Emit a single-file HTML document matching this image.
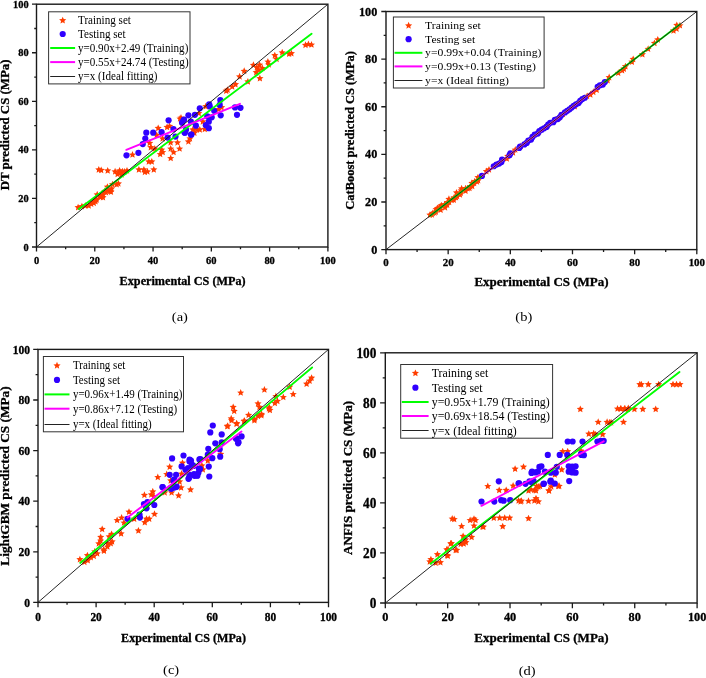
<!DOCTYPE html><html><head><meta charset="utf-8"><style>html,body{margin:0;padding:0;background:#fff;width:706px;height:678px;overflow:hidden}svg{display:block;will-change:transform}text{font-family:"Liberation Serif",serif;fill:#000}text.b{stroke:#000;stroke-width:0.3px}</style></head><body>
<svg width="706" height="678" viewBox="0 0 706 678">
<rect width="706" height="678" fill="#fff"/>
<g>
<clipPath id="ca"><rect x="36.50" y="4.20" width="291.40" height="242.80"/></clipPath>
<g clip-path="url(#ca)">
<g fill="#ff3d00">
<polygon points="305.50,41.35 306.53,43.68 309.07,43.94 307.16,45.64 307.70,48.13 305.50,46.85 303.30,48.13 303.84,45.64 301.93,43.94 304.47,43.68"/>
<polygon points="308.40,40.55 309.43,42.88 311.97,43.14 310.06,44.84 310.60,47.33 308.40,46.05 306.20,47.33 306.74,44.84 304.83,43.14 307.37,42.88"/>
<polygon points="311.50,41.05 312.53,43.38 315.07,43.64 313.16,45.34 313.70,47.83 311.50,46.55 309.30,47.83 309.84,45.34 307.93,43.64 310.47,43.38"/>
<polygon points="291.40,49.75 292.43,52.08 294.97,52.34 293.06,54.04 293.60,56.53 291.40,55.25 289.20,56.53 289.74,54.04 287.83,52.34 290.37,52.08"/>
<polygon points="289.10,50.25 290.13,52.58 292.67,52.84 290.76,54.54 291.30,57.03 289.10,55.75 286.90,57.03 287.44,54.54 285.53,52.84 288.07,52.58"/>
<polygon points="282.20,48.85 283.23,51.18 285.77,51.44 283.86,53.14 284.40,55.63 282.20,54.35 280.00,55.63 280.54,53.14 278.63,51.44 281.17,51.18"/>
<polygon points="274.80,51.65 275.83,53.98 278.37,54.24 276.46,55.94 277.00,58.43 274.80,57.15 272.60,58.43 273.14,55.94 271.23,54.24 273.77,53.98"/>
<polygon points="276.60,55.35 277.63,57.68 280.17,57.94 278.26,59.64 278.80,62.13 276.60,60.85 274.40,62.13 274.94,59.64 273.03,57.94 275.57,57.68"/>
<polygon points="267.90,58.05 268.93,60.38 271.47,60.64 269.56,62.34 270.10,64.83 267.90,63.55 265.70,64.83 266.24,62.34 264.33,60.64 266.87,60.38"/>
<polygon points="268.80,60.85 269.83,63.18 272.37,63.44 270.46,65.14 271.00,67.63 268.80,66.35 266.60,67.63 267.14,65.14 265.23,63.44 267.77,63.18"/>
<polygon points="259.60,61.25 260.63,63.58 263.17,63.84 261.26,65.54 261.80,68.03 259.60,66.75 257.40,68.03 257.94,65.54 256.03,63.84 258.57,63.58"/>
<polygon points="256.80,63.65 257.83,65.98 260.37,66.24 258.46,67.94 259.00,70.43 256.80,69.15 254.60,70.43 255.14,67.94 253.23,66.24 255.77,65.98"/>
<polygon points="262.40,64.55 263.43,66.88 265.97,67.14 264.06,68.84 264.60,71.33 262.40,70.05 260.20,71.33 260.74,68.84 258.83,67.14 261.37,66.88"/>
<polygon points="253.40,61.35 254.43,63.68 256.97,63.94 255.06,65.64 255.60,68.13 253.40,66.85 251.20,68.13 251.74,65.64 249.83,63.94 252.37,63.68"/>
<polygon points="258.80,66.05 259.83,68.38 262.37,68.64 260.46,70.34 261.00,72.83 258.80,71.55 256.60,72.83 257.14,70.34 255.23,68.64 257.77,68.38"/>
<polygon points="256.20,68.75 257.23,71.08 259.77,71.34 257.86,73.04 258.40,75.53 256.20,74.25 254.00,75.53 254.54,73.04 252.63,71.34 255.17,71.08"/>
<polygon points="259.90,74.75 260.93,77.08 263.47,77.34 261.56,79.04 262.10,81.53 259.90,80.25 257.70,81.53 258.24,79.04 256.33,77.34 258.87,77.08"/>
<polygon points="244.20,67.35 245.23,69.68 247.77,69.94 245.86,71.64 246.40,74.13 244.20,72.85 242.00,74.13 242.54,71.64 240.63,69.94 243.17,69.68"/>
<polygon points="239.60,72.85 240.63,75.18 243.17,75.44 241.26,77.14 241.80,79.63 239.60,78.35 237.40,79.63 237.94,77.14 236.03,75.44 238.57,75.18"/>
<polygon points="247.90,77.95 248.93,80.28 251.47,80.54 249.56,82.24 250.10,84.73 247.90,83.45 245.70,84.73 246.24,82.24 244.33,80.54 246.87,80.28"/>
<polygon points="235.50,80.75 236.53,83.08 239.07,83.34 237.16,85.04 237.70,87.53 235.50,86.25 233.30,87.53 233.84,85.04 231.93,83.34 234.47,83.08"/>
<polygon points="232.20,83.05 233.23,85.38 235.77,85.64 233.86,87.34 234.40,89.83 232.20,88.55 230.00,89.83 230.54,87.34 228.63,85.64 231.17,85.38"/>
<polygon points="227.60,86.25 228.63,88.58 231.17,88.84 229.26,90.54 229.80,93.03 227.60,91.75 225.40,93.03 225.94,90.54 224.03,88.84 226.57,88.58"/>
<polygon points="226.20,87.15 227.23,89.48 229.77,89.74 227.86,91.44 228.40,93.93 226.20,92.65 224.00,93.93 224.54,91.44 222.63,89.74 225.17,89.48"/>
<polygon points="205.80,102.65 206.83,104.98 209.37,105.24 207.46,106.94 208.00,109.43 205.80,108.15 203.60,109.43 204.14,106.94 202.23,105.24 204.77,104.98"/>
<polygon points="221.60,103.65 222.63,105.98 225.17,106.24 223.26,107.94 223.80,110.43 221.60,109.15 219.40,110.43 219.94,107.94 218.03,106.24 220.57,105.98"/>
<polygon points="218.70,105.55 219.73,107.88 222.27,108.14 220.36,109.84 220.90,112.33 218.70,111.05 216.50,112.33 217.04,109.84 215.13,108.14 217.67,107.88"/>
<polygon points="198.80,109.55 199.83,111.88 202.37,112.14 200.46,113.84 201.00,116.33 198.80,115.05 196.60,116.33 197.14,113.84 195.23,112.14 197.77,111.88"/>
<polygon points="202.80,117.95 203.83,120.28 206.37,120.54 204.46,122.24 205.00,124.73 202.80,123.45 200.60,124.73 201.14,122.24 199.23,120.54 201.77,120.28"/>
<polygon points="199.80,125.95 200.83,128.28 203.37,128.54 201.46,130.24 202.00,132.73 199.80,131.45 197.60,132.73 198.14,130.24 196.23,128.54 198.77,128.28"/>
<polygon points="196.90,125.95 197.93,128.28 200.47,128.54 198.56,130.24 199.10,132.73 196.90,131.45 194.70,132.73 195.24,130.24 193.33,128.54 195.87,128.28"/>
<polygon points="204.80,125.45 205.83,127.78 208.37,128.04 206.46,129.74 207.00,132.23 204.80,130.95 202.60,132.23 203.14,129.74 201.23,128.04 203.77,127.78"/>
<polygon points="192.90,125.95 193.93,128.28 196.47,128.54 194.56,130.24 195.10,132.73 192.90,131.45 190.70,132.73 191.24,130.24 189.33,128.54 191.87,128.28"/>
<polygon points="181.00,114.05 182.03,116.38 184.57,116.64 182.66,118.34 183.20,120.83 181.00,119.55 178.80,120.83 179.34,118.34 177.43,116.64 179.97,116.38"/>
<polygon points="190.00,134.85 191.03,137.18 193.57,137.44 191.66,139.14 192.20,141.63 190.00,140.35 187.80,141.63 188.34,139.14 186.43,137.44 188.97,137.18"/>
<polygon points="158.20,124.45 159.23,126.78 161.77,127.04 159.86,128.74 160.40,131.23 158.20,129.95 156.00,131.23 156.54,128.74 154.63,127.04 157.17,126.78"/>
<polygon points="167.10,123.45 168.13,125.78 170.67,126.04 168.76,127.74 169.30,130.23 167.10,128.95 164.90,130.23 165.44,127.74 163.53,126.04 166.07,125.78"/>
<polygon points="169.60,122.45 170.63,124.78 173.17,125.04 171.26,126.74 171.80,129.23 169.60,127.95 167.40,129.23 167.94,126.74 166.03,125.04 168.57,124.78"/>
<polygon points="180.00,115.05 181.03,117.38 183.57,117.64 181.66,119.34 182.20,121.83 180.00,120.55 177.80,121.83 178.34,119.34 176.43,117.64 178.97,117.38"/>
<polygon points="156.70,131.45 157.73,133.78 160.27,134.04 158.36,135.74 158.90,138.23 156.70,136.95 154.50,138.23 155.04,135.74 153.13,134.04 155.67,133.78"/>
<polygon points="162.60,134.85 163.63,137.18 166.17,137.44 164.26,139.14 164.80,141.63 162.60,140.35 160.40,141.63 160.94,139.14 159.03,137.44 161.57,137.18"/>
<polygon points="170.60,138.85 171.63,141.18 174.17,141.44 172.26,143.14 172.80,145.63 170.60,144.35 168.40,145.63 168.94,143.14 167.03,141.44 169.57,141.18"/>
<polygon points="177.50,138.85 178.53,141.18 181.07,141.44 179.16,143.14 179.70,145.63 177.50,144.35 175.30,145.63 175.84,143.14 173.93,141.44 176.47,141.18"/>
<polygon points="149.70,139.35 150.73,141.68 153.27,141.94 151.36,143.64 151.90,146.13 149.70,144.85 147.50,146.13 148.04,143.64 146.13,141.94 148.67,141.68"/>
<polygon points="188.40,137.85 189.43,140.18 191.97,140.44 190.06,142.14 190.60,144.63 188.40,143.35 186.20,144.63 186.74,142.14 184.83,140.44 187.37,140.18"/>
<polygon points="150.80,143.65 151.83,145.98 154.37,146.24 152.46,147.94 153.00,150.43 150.80,149.15 148.60,150.43 149.14,147.94 147.23,146.24 149.77,145.98"/>
<polygon points="154.80,145.05 155.83,147.38 158.37,147.64 156.46,149.34 157.00,151.83 154.80,150.55 152.60,151.83 153.14,149.34 151.23,147.64 153.77,147.38"/>
<polygon points="161.70,146.05 162.73,148.38 165.27,148.64 163.36,150.34 163.90,152.83 161.70,151.55 159.50,152.83 160.04,150.34 158.13,148.64 160.67,148.38"/>
<polygon points="162.70,148.55 163.73,150.88 166.27,151.14 164.36,152.84 164.90,155.33 162.70,154.05 160.50,155.33 161.04,152.84 159.13,151.14 161.67,150.88"/>
<polygon points="160.20,150.55 161.23,152.88 163.77,153.14 161.86,154.84 162.40,157.33 160.20,156.05 158.00,157.33 158.54,154.84 156.63,153.14 159.17,152.88"/>
<polygon points="170.70,145.05 171.73,147.38 174.27,147.64 172.36,149.34 172.90,151.83 170.70,150.55 168.50,151.83 169.04,149.34 167.13,147.64 169.67,147.38"/>
<polygon points="173.60,148.55 174.63,150.88 177.17,151.14 175.26,152.84 175.80,155.33 173.60,154.05 171.40,155.33 171.94,152.84 170.03,151.14 172.57,150.88"/>
<polygon points="179.60,145.05 180.63,147.38 183.17,147.64 181.26,149.34 181.80,151.83 179.60,150.55 177.40,151.83 177.94,149.34 176.03,147.64 178.57,147.38"/>
<polygon points="170.70,154.55 171.73,156.88 174.27,157.14 172.36,158.84 172.90,161.33 170.70,160.05 168.50,161.33 169.04,158.84 167.13,157.14 169.67,156.88"/>
<polygon points="194.40,129.25 195.43,131.58 197.97,131.84 196.06,133.54 196.60,136.03 194.40,134.75 192.20,136.03 192.74,133.54 190.83,131.84 193.37,131.58"/>
<polygon points="132.50,151.05 133.53,153.38 136.07,153.64 134.16,155.34 134.70,157.83 132.50,156.55 130.30,157.83 130.84,155.34 128.93,153.64 131.47,153.38"/>
<polygon points="148.80,157.95 149.83,160.28 152.37,160.54 150.46,162.24 151.00,164.73 148.80,163.45 146.60,164.73 147.14,162.24 145.23,160.54 147.77,160.28"/>
<polygon points="151.80,157.95 152.83,160.28 155.37,160.54 153.46,162.24 154.00,164.73 151.80,163.45 149.60,164.73 150.14,162.24 148.23,160.54 150.77,160.28"/>
<polygon points="138.90,165.95 139.93,168.28 142.47,168.54 140.56,170.24 141.10,172.73 138.90,171.45 136.70,172.73 137.24,170.24 135.33,168.54 137.87,168.28"/>
<polygon points="143.90,165.95 144.93,168.28 147.47,168.54 145.56,170.24 146.10,172.73 143.90,171.45 141.70,172.73 142.24,170.24 140.33,168.54 142.87,168.28"/>
<polygon points="147.40,167.85 148.43,170.18 150.97,170.44 149.06,172.14 149.60,174.63 147.40,173.35 145.20,174.63 145.74,172.14 143.83,170.44 146.37,170.18"/>
<polygon points="144.90,168.35 145.93,170.68 148.47,170.94 146.56,172.64 147.10,175.13 144.90,173.85 142.70,175.13 143.24,172.64 141.33,170.94 143.87,170.68"/>
<polygon points="153.80,165.95 154.83,168.28 157.37,168.54 155.46,170.24 156.00,172.73 153.80,171.45 151.60,172.73 152.14,170.24 150.23,168.54 152.77,168.28"/>
<polygon points="98.80,165.95 99.83,168.28 102.37,168.54 100.46,170.24 101.00,172.73 98.80,171.45 96.60,172.73 97.14,170.24 95.23,168.54 97.77,168.28"/>
<polygon points="101.20,166.45 102.23,168.78 104.77,169.04 102.86,170.74 103.40,173.23 101.20,171.95 99.00,173.23 99.54,170.74 97.63,169.04 100.17,168.78"/>
<polygon points="107.70,166.95 108.73,169.28 111.27,169.54 109.36,171.24 109.90,173.73 107.70,172.45 105.50,173.73 106.04,171.24 104.13,169.54 106.67,169.28"/>
<polygon points="115.10,167.85 116.13,170.18 118.67,170.44 116.76,172.14 117.30,174.63 115.10,173.35 112.90,174.63 113.44,172.14 111.53,170.44 114.07,170.18"/>
<polygon points="119.60,166.95 120.63,169.28 123.17,169.54 121.26,171.24 121.80,173.73 119.60,172.45 117.40,173.73 117.94,171.24 116.03,169.54 118.57,169.28"/>
<polygon points="122.50,167.85 123.53,170.18 126.07,170.44 124.16,172.14 124.70,174.63 122.50,173.35 120.30,174.63 120.84,172.14 118.93,170.44 121.47,170.18"/>
<polygon points="127.00,166.95 128.03,169.28 130.57,169.54 128.66,171.24 129.20,173.73 127.00,172.45 124.80,173.73 125.34,171.24 123.43,169.54 125.97,169.28"/>
<polygon points="121.60,170.85 122.63,173.18 125.17,173.44 123.26,175.14 123.80,177.63 121.60,176.35 119.40,177.63 119.94,175.14 118.03,173.44 120.57,173.18"/>
<polygon points="78.10,203.65 79.13,205.98 81.67,206.24 79.76,207.94 80.30,210.43 78.10,209.15 75.90,210.43 76.44,207.94 74.53,206.24 77.07,205.98"/>
<polygon points="81.90,202.75 82.93,205.08 85.47,205.34 83.56,207.04 84.10,209.53 81.90,208.25 79.70,209.53 80.24,207.04 78.33,205.34 80.87,205.08"/>
<polygon points="85.30,201.95 86.33,204.28 88.87,204.54 86.96,206.24 87.50,208.73 85.30,207.45 83.10,208.73 83.64,206.24 81.73,204.54 84.27,204.28"/>
<polygon points="88.70,201.95 89.73,204.28 92.27,204.54 90.36,206.24 90.90,208.73 88.70,207.45 86.50,208.73 87.04,206.24 85.13,204.54 87.67,204.28"/>
<polygon points="91.20,200.25 92.23,202.58 94.77,202.84 92.86,204.54 93.40,207.03 91.20,205.75 89.00,207.03 89.54,204.54 87.63,202.84 90.17,202.58"/>
<polygon points="93.80,199.35 94.83,201.68 97.37,201.94 95.46,203.64 96.00,206.13 93.80,204.85 91.60,206.13 92.14,203.64 90.23,201.94 92.77,201.68"/>
<polygon points="95.50,197.65 96.53,199.98 99.07,200.24 97.16,201.94 97.70,204.43 95.50,203.15 93.30,204.43 93.84,201.94 91.93,200.24 94.47,199.98"/>
<polygon points="96.30,195.15 97.33,197.48 99.87,197.74 97.96,199.44 98.50,201.93 96.30,200.65 94.10,201.93 94.64,199.44 92.73,197.74 95.27,197.48"/>
<polygon points="97.20,190.85 98.23,193.18 100.77,193.44 98.86,195.14 99.40,197.63 97.20,196.35 95.00,197.63 95.54,195.14 93.63,193.44 96.17,193.18"/>
<polygon points="100.60,193.45 101.63,195.78 104.17,196.04 102.26,197.74 102.80,200.23 100.60,198.95 98.40,200.23 98.94,197.74 97.03,196.04 99.57,195.78"/>
<polygon points="103.10,190.85 104.13,193.18 106.67,193.44 104.76,195.14 105.30,197.63 103.10,196.35 100.90,197.63 101.44,195.14 99.53,193.44 102.07,193.18"/>
<polygon points="104.80,187.45 105.83,189.78 108.37,190.04 106.46,191.74 107.00,194.23 104.80,192.95 102.60,194.23 103.14,191.74 101.23,190.04 103.77,189.78"/>
<polygon points="107.40,183.25 108.43,185.58 110.97,185.84 109.06,187.54 109.60,190.03 107.40,188.75 105.20,190.03 105.74,187.54 103.83,185.84 106.37,185.58"/>
<polygon points="109.90,187.45 110.93,189.78 113.47,190.04 111.56,191.74 112.10,194.23 109.90,192.95 107.70,194.23 108.24,191.74 106.33,190.04 108.87,189.78"/>
<polygon points="111.60,184.95 112.63,187.28 115.17,187.54 113.26,189.24 113.80,191.73 111.60,190.45 109.40,191.73 109.94,189.24 108.03,187.54 110.57,187.28"/>
<polygon points="112.50,180.65 113.53,182.98 116.07,183.24 114.16,184.94 114.70,187.43 112.50,186.15 110.30,187.43 110.84,184.94 108.93,183.24 111.47,182.98"/>
<polygon points="116.70,180.65 117.73,182.98 120.27,183.24 118.36,184.94 118.90,187.43 116.70,186.15 114.50,187.43 115.04,184.94 113.13,183.24 115.67,182.98"/>
<polygon points="118.40,179.85 119.43,182.18 121.97,182.44 120.06,184.14 120.60,186.63 118.40,185.35 116.20,186.63 116.74,184.14 114.83,182.44 117.37,182.18"/>
<polygon points="117.60,170.45 118.63,172.78 121.17,173.04 119.26,174.74 119.80,177.23 117.60,175.95 115.40,177.23 115.94,174.74 114.03,173.04 116.57,172.78"/>
<polygon points="121.00,168.75 122.03,171.08 124.57,171.34 122.66,173.04 123.20,175.53 121.00,174.25 118.80,175.53 119.34,173.04 117.43,171.34 119.97,171.08"/>
<polygon points="124.40,167.95 125.43,170.28 127.97,170.54 126.06,172.24 126.60,174.73 124.40,173.45 122.20,174.73 122.74,172.24 120.83,170.54 123.37,170.28"/>
<polygon points="108.00,185.75 109.03,188.08 111.57,188.34 109.66,190.04 110.20,192.53 108.00,191.25 105.80,192.53 106.34,190.04 104.43,188.34 106.97,188.08"/>
<polygon points="111.00,188.25 112.03,190.58 114.57,190.84 112.66,192.54 113.20,195.03 111.00,193.75 108.80,195.03 109.34,192.54 107.43,190.84 109.97,190.58"/>
<polygon points="106.00,188.75 107.03,191.08 109.57,191.34 107.66,193.04 108.20,195.53 106.00,194.25 103.80,195.53 104.34,193.04 102.43,191.34 104.97,191.08"/>
<polygon points="100.00,192.25 101.03,194.58 103.57,194.84 101.66,196.54 102.20,199.03 100.00,197.75 97.80,199.03 98.34,196.54 96.43,194.84 98.97,194.58"/>
<polygon points="103.00,193.75 104.03,196.08 106.57,196.34 104.66,198.04 105.20,200.53 103.00,199.25 100.80,200.53 101.34,198.04 99.43,196.34 101.97,196.08"/>
<polygon points="93.00,198.25 94.03,200.58 96.57,200.84 94.66,202.54 95.20,205.03 93.00,203.75 90.80,205.03 91.34,202.54 89.43,200.84 91.97,200.58"/>
<polygon points="96.50,196.25 97.53,198.58 100.07,198.84 98.16,200.54 98.70,203.03 96.50,201.75 94.30,203.03 94.84,200.54 92.93,198.84 95.47,198.58"/>
</g>
<g fill="#3000ff">
<circle cx="220.30" cy="100.10" r="3.1"/>
<circle cx="209.20" cy="104.30" r="3.1"/>
<circle cx="219.70" cy="104.90" r="3.1"/>
<circle cx="209.70" cy="106.40" r="3.1"/>
<circle cx="199.80" cy="108.30" r="3.1"/>
<circle cx="214.20" cy="110.80" r="3.1"/>
<circle cx="220.70" cy="115.30" r="3.1"/>
<circle cx="235.00" cy="107.40" r="3.1"/>
<circle cx="240.50" cy="107.80" r="3.1"/>
<circle cx="237.00" cy="114.80" r="3.1"/>
<circle cx="194.90" cy="114.80" r="3.1"/>
<circle cx="188.40" cy="115.30" r="3.1"/>
<circle cx="207.30" cy="116.30" r="3.1"/>
<circle cx="211.70" cy="117.30" r="3.1"/>
<circle cx="208.80" cy="121.70" r="3.1"/>
<circle cx="205.80" cy="125.20" r="3.1"/>
<circle cx="208.80" cy="128.20" r="3.1"/>
<circle cx="195.90" cy="125.70" r="3.1"/>
<circle cx="190.90" cy="121.70" r="3.1"/>
<circle cx="184.00" cy="119.70" r="3.1"/>
<circle cx="182.00" cy="122.70" r="3.1"/>
<circle cx="186.00" cy="129.70" r="3.1"/>
<circle cx="190.90" cy="134.60" r="3.1"/>
<circle cx="184.50" cy="132.60" r="3.1"/>
<circle cx="168.60" cy="120.30" r="3.1"/>
<circle cx="183.50" cy="120.30" r="3.1"/>
<circle cx="146.30" cy="132.70" r="3.1"/>
<circle cx="153.20" cy="132.70" r="3.1"/>
<circle cx="161.60" cy="132.20" r="3.1"/>
<circle cx="145.30" cy="138.60" r="3.1"/>
<circle cx="173.50" cy="129.20" r="3.1"/>
<circle cx="167.60" cy="137.60" r="3.1"/>
<circle cx="175.50" cy="136.60" r="3.1"/>
<circle cx="184.90" cy="132.70" r="3.1"/>
<circle cx="142.80" cy="144.10" r="3.1"/>
<circle cx="138.40" cy="152.80" r="3.1"/>
<circle cx="191.50" cy="134.50" r="3.1"/>
<circle cx="126.50" cy="155.30" r="3.1"/>
</g>
<line x1="78.90" y1="209.10" x2="311.60" y2="33.80" stroke="#00ff00" stroke-width="1.9" stroke-linecap="round"/>
<line x1="126.30" y1="149.80" x2="240.00" y2="103.80" stroke="#ff00ff" stroke-width="1.9" stroke-linecap="round"/>
<line x1="36.50" y1="247.00" x2="327.90" y2="4.20" stroke="#1a1a1a" stroke-width="0.95"/>
</g>
<rect x="36.50" y="4.20" width="291.40" height="242.80" fill="none" stroke="#1a1a1a" stroke-width="1.4"/>
<path d="M36.50 247.00h-4.50M36.50 247.00v4.50M36.50 222.72h-2.25M65.64 247.00v2.25M36.50 198.44h-4.50M94.78 247.00v4.50M36.50 174.16h-2.25M123.92 247.00v2.25M36.50 149.88h-4.50M153.06 247.00v4.50M36.50 125.60h-2.25M182.20 247.00v2.25M36.50 101.32h-4.50M211.34 247.00v4.50M36.50 77.04h-2.25M240.48 247.00v2.25M36.50 52.76h-4.50M269.62 247.00v4.50M36.50 28.48h-2.25M298.76 247.00v2.25M36.50 4.20h-4.50M327.90 247.00v4.50" stroke="#1a1a1a" stroke-width="1.3" fill="none"/>
<text transform="translate(28.70,250.59) scale(1.0000,1.0300)" font-size="10.40" font-weight="bold" text-anchor="end" class="b">0</text>
<text transform="translate(36.50,263.99) scale(1.0000,1.0500)" font-size="10.50" font-weight="bold" text-anchor="middle" class="b">0</text>
<text transform="translate(28.70,202.03) scale(1.0000,1.0300)" font-size="10.40" font-weight="bold" text-anchor="end" class="b">20</text>
<text transform="translate(94.78,263.99) scale(1.0000,1.0500)" font-size="10.50" font-weight="bold" text-anchor="middle" class="b">20</text>
<text transform="translate(28.70,153.47) scale(1.0000,1.0300)" font-size="10.40" font-weight="bold" text-anchor="end" class="b">40</text>
<text transform="translate(153.06,263.99) scale(1.0000,1.0500)" font-size="10.50" font-weight="bold" text-anchor="middle" class="b">40</text>
<text transform="translate(28.70,104.91) scale(1.0000,1.0300)" font-size="10.40" font-weight="bold" text-anchor="end" class="b">60</text>
<text transform="translate(211.34,263.99) scale(1.0000,1.0500)" font-size="10.50" font-weight="bold" text-anchor="middle" class="b">60</text>
<text transform="translate(28.70,56.35) scale(1.0000,1.0300)" font-size="10.40" font-weight="bold" text-anchor="end" class="b">80</text>
<text transform="translate(269.62,263.99) scale(1.0000,1.0500)" font-size="10.50" font-weight="bold" text-anchor="middle" class="b">80</text>
<text transform="translate(28.70,7.79) scale(1.0000,1.0300)" font-size="10.40" font-weight="bold" text-anchor="end" class="b">100</text>
<text transform="translate(327.90,263.99) scale(1.0000,1.0500)" font-size="10.50" font-weight="bold" text-anchor="middle" class="b">100</text>
<text transform="translate(182.60,284.60) scale(1.0000,1.0400)" font-size="12.20" font-weight="bold" text-anchor="middle" class="b">Experimental CS (MPa)</text>
<text transform="translate(9.00,124.85) rotate(-90) scale(1.0000,0.9400)" font-size="12.90" font-weight="bold" text-anchor="middle" class="b">DT predicted CS (MPa)</text>
<rect x="48.60" y="11.80" width="141.40" height="72.10" fill="#fff" stroke="#333" stroke-width="1"/>
<g fill="#ff3d00"><polygon points="62.70,16.65 63.73,18.98 66.27,19.24 64.36,20.94 64.90,23.43 62.70,22.15 60.50,23.43 61.04,20.94 59.13,19.24 61.67,18.98"/></g>
<circle cx="62.70" cy="34.00" r="3.1" fill="#3000ff"/>
<line x1="50.20" y1="48.00" x2="75.10" y2="48.00" stroke="#00ff00" stroke-width="2"/>
<line x1="50.20" y1="62.10" x2="75.10" y2="62.10" stroke="#ff00ff" stroke-width="2"/>
<line x1="50.20" y1="76.50" x2="75.10" y2="76.50" stroke="#222" stroke-width="1"/>
<text transform="translate(78.00,24.09) scale(1.0000,1.0400)" font-size="11.10" font-weight="normal" text-anchor="start">Training set</text>
<text transform="translate(78.00,37.69) scale(1.0000,1.0400)" font-size="11.10" font-weight="normal" text-anchor="start">Testing set</text>
<text transform="translate(78.00,51.69) scale(1.0000,1.0400)" font-size="11.10" font-weight="normal" text-anchor="start">y=0.90x+2.49 (Training)</text>
<text transform="translate(78.00,65.79) scale(1.0000,1.0400)" font-size="11.10" font-weight="normal" text-anchor="start">y=0.55x+24.74 (Testing)</text>
<text transform="translate(78.00,80.09) scale(1.0000,1.0400)" font-size="11.10" font-weight="normal" text-anchor="start">y=x (Ideal fitting)</text>
<text transform="translate(179.90,321.44) scale(1.1000,1.0000)" font-size="13.20" font-weight="normal" text-anchor="middle">(a)</text>
</g>
<g>
<clipPath id="cb"><rect x="386.00" y="11.50" width="310.80" height="238.10"/></clipPath>
<g clip-path="url(#cb)">
<g fill="#ff3d00">
<polygon points="429.94,211.13 430.97,213.47 433.51,213.72 431.61,215.42 432.15,217.91 429.94,216.63 427.74,217.91 428.28,215.42 426.37,213.72 428.91,213.47"/>
<polygon points="431.83,210.91 432.86,213.25 435.40,213.51 433.50,215.21 434.04,217.70 431.83,216.41 429.63,217.70 430.17,215.21 428.27,213.51 430.81,213.25"/>
<polygon points="432.81,209.47 433.83,211.80 436.37,212.06 434.47,213.76 435.01,216.25 432.81,214.97 430.60,216.25 431.14,213.76 429.24,212.06 431.78,211.80"/>
<polygon points="434.56,209.07 435.59,211.40 438.13,211.66 436.22,213.36 436.76,215.85 434.56,214.57 432.36,215.85 432.90,213.36 430.99,211.66 433.53,211.40"/>
<polygon points="435.91,208.12 436.94,210.46 439.47,210.71 437.57,212.41 438.11,214.91 435.91,213.62 433.70,214.91 434.24,212.41 432.34,210.71 434.88,210.46"/>
<polygon points="436.14,205.69 437.17,208.02 439.70,208.28 437.80,209.98 438.34,212.47 436.14,211.19 433.93,212.47 434.47,209.98 432.57,208.28 435.11,208.02"/>
<polygon points="437.34,204.56 438.37,206.89 440.91,207.15 439.01,208.85 439.55,211.34 437.34,210.06 435.14,211.34 435.68,208.85 433.78,207.15 436.31,206.89"/>
<polygon points="440.63,206.21 441.66,208.54 444.20,208.80 442.30,210.50 442.84,212.99 440.63,211.71 438.43,212.99 438.97,210.50 437.07,208.80 439.61,208.54"/>
<polygon points="440.14,202.80 441.17,205.13 443.70,205.39 441.80,207.09 442.34,209.58 440.14,208.30 437.93,209.58 438.47,207.09 436.57,205.39 439.11,205.13"/>
<polygon points="441.36,201.70 442.39,204.03 444.93,204.29 443.03,205.99 443.57,208.48 441.36,207.20 439.16,208.48 439.70,205.99 437.80,204.29 440.34,204.03"/>
<polygon points="445.04,203.86 446.07,206.20 448.61,206.45 446.71,208.15 447.25,210.65 445.04,209.36 442.84,210.65 443.38,208.15 441.48,206.45 444.02,206.20"/>
<polygon points="444.71,200.68 445.74,203.01 448.28,203.27 446.37,204.97 446.91,207.46 444.71,206.18 442.51,207.46 443.05,204.97 441.14,203.27 443.68,203.01"/>
<polygon points="447.16,201.20 448.19,203.54 450.72,203.79 448.82,205.49 449.36,207.98 447.16,206.70 444.95,207.98 445.49,205.49 443.59,203.79 446.13,203.54"/>
<polygon points="447.34,198.70 448.37,201.04 450.91,201.29 449.00,202.99 449.54,205.49 447.34,204.20 445.14,205.49 445.68,202.99 443.77,201.29 446.31,201.04"/>
<polygon points="449.15,198.38 450.18,200.71 452.72,200.97 450.82,202.67 451.36,205.16 449.15,203.88 446.95,205.16 447.49,202.67 445.59,200.97 448.12,200.71"/>
<polygon points="448.93,195.35 449.96,197.68 452.50,197.94 450.60,199.64 451.14,202.13 448.93,200.85 446.73,202.13 447.27,199.64 445.37,197.94 447.91,197.68"/>
<polygon points="451.75,196.36 452.78,198.70 455.32,198.95 453.42,200.65 453.96,203.15 451.75,201.86 449.55,203.15 450.09,200.65 448.18,198.95 450.72,198.70"/>
<polygon points="453.78,196.33 454.81,198.67 457.35,198.92 455.45,200.62 455.99,203.12 453.78,201.83 451.58,203.12 452.12,200.62 450.22,198.92 452.76,198.67"/>
<polygon points="454.01,193.90 455.04,196.23 457.58,196.49 455.68,198.19 456.22,200.68 454.01,199.40 451.81,200.68 452.35,198.19 450.45,196.49 452.98,196.23"/>
<polygon points="456.00,193.80 457.03,196.14 459.57,196.40 457.66,198.10 458.20,200.59 456.00,199.30 453.79,200.59 454.33,198.10 452.43,196.40 454.97,196.14"/>
<polygon points="457.09,192.51 458.12,194.85 460.65,195.11 458.75,196.81 459.29,199.30 457.09,198.01 454.88,199.30 455.42,196.81 453.52,195.11 456.06,194.85"/>
<polygon points="456.50,188.99 457.53,191.32 460.06,191.58 458.16,193.28 458.70,195.77 456.50,194.49 454.29,195.77 454.83,193.28 452.93,191.58 455.47,191.32"/>
<polygon points="459.97,190.88 461.00,193.21 463.53,193.47 461.63,195.17 462.17,197.66 459.97,196.38 457.76,197.66 458.30,195.17 456.40,193.47 458.94,193.21"/>
<polygon points="460.75,189.18 461.78,191.51 464.32,191.77 462.42,193.47 462.96,195.96 460.75,194.68 458.55,195.96 459.09,193.47 457.19,191.77 459.72,191.51"/>
<polygon points="461.15,186.97 462.18,189.31 464.72,189.57 462.82,191.27 463.36,193.76 461.15,192.47 458.95,193.76 459.49,191.27 457.59,189.57 460.12,189.31"/>
<polygon points="461.62,184.85 462.64,187.18 465.18,187.44 463.28,189.14 463.82,191.63 461.62,190.35 459.41,191.63 459.95,189.14 458.05,187.44 460.59,187.18"/>
<polygon points="465.52,187.32 466.55,189.66 469.09,189.91 467.19,191.61 467.73,194.11 465.52,192.82 463.32,194.11 463.86,191.61 461.96,189.91 464.50,189.66"/>
<polygon points="465.60,184.69 466.63,187.02 469.17,187.28 467.27,188.98 467.81,191.47 465.60,190.19 463.40,191.47 463.94,188.98 462.04,187.28 464.58,187.02"/>
<polygon points="467.68,184.71 468.71,187.05 471.24,187.30 469.34,189.00 469.88,191.50 467.68,190.21 465.47,191.50 466.01,189.00 464.11,187.30 466.65,187.05"/>
<polygon points="469.48,184.38 470.51,186.71 473.05,186.97 471.15,188.67 471.69,191.16 469.48,189.88 467.28,191.16 467.82,188.67 465.92,186.97 468.45,186.71"/>
<polygon points="470.27,182.69 471.30,185.03 473.84,185.28 471.94,186.98 472.48,189.48 470.27,188.19 468.07,189.48 468.61,186.98 466.71,185.28 469.24,185.03"/>
<polygon points="472.22,182.55 473.25,184.89 475.79,185.14 473.89,186.84 474.43,189.34 472.22,188.05 470.02,189.34 470.56,186.84 468.66,185.14 471.20,184.89"/>
<polygon points="471.89,179.36 472.92,181.70 475.45,181.96 473.55,183.65 474.09,186.15 471.89,184.86 469.68,186.15 470.22,183.65 468.32,181.96 470.86,181.70"/>
<polygon points="474.10,179.57 475.13,181.91 477.67,182.16 475.76,183.86 476.30,186.36 474.10,185.07 471.89,186.36 472.43,183.86 470.53,182.16 473.07,181.91"/>
<polygon points="474.72,177.66 475.75,179.99 478.29,180.25 476.38,181.95 476.92,184.44 474.72,183.16 472.52,184.44 473.06,181.95 471.15,180.25 473.69,179.99"/>
<polygon points="476.97,177.92 478.00,180.25 480.53,180.51 478.63,182.21 479.17,184.70 476.97,183.42 474.76,184.70 475.30,182.21 473.40,180.51 475.94,180.25"/>
<polygon points="478.16,176.77 479.19,179.11 481.73,179.36 479.83,181.06 480.37,183.55 478.16,182.27 475.96,183.55 476.50,181.06 474.60,179.36 477.14,179.11"/>
<polygon points="477.97,173.77 479.00,176.10 481.54,176.36 479.63,178.06 480.17,180.55 477.97,179.27 475.77,180.55 476.31,178.06 474.40,176.36 476.94,176.10"/>
<polygon points="486.35,167.59 487.38,169.93 489.92,170.19 488.02,171.88 488.56,174.38 486.35,173.09 484.15,174.38 484.69,171.88 482.79,170.19 485.33,169.93"/>
<polygon points="488.99,165.88 490.02,168.22 492.55,168.47 490.65,170.17 491.19,172.67 488.99,171.38 486.78,172.67 487.32,170.17 485.42,168.47 487.96,168.22"/>
<polygon points="506.81,155.06 507.84,157.39 510.37,157.65 508.47,159.35 509.01,161.84 506.81,160.56 504.60,161.84 505.14,159.35 503.24,157.65 505.78,157.39"/>
<polygon points="507.72,152.36 508.75,154.70 511.29,154.95 509.38,156.65 509.92,159.15 507.72,157.86 505.51,159.15 506.05,156.65 504.15,154.95 506.69,154.70"/>
<polygon points="513.03,149.01 514.06,151.34 516.60,151.60 514.70,153.30 515.24,155.79 513.03,154.51 510.83,155.79 511.37,153.30 509.47,151.60 512.01,151.34"/>
<polygon points="515.25,146.08 516.27,148.42 518.81,148.68 516.91,150.38 517.45,152.87 515.25,151.58 513.04,152.87 513.58,150.38 511.68,148.68 514.22,148.42"/>
<polygon points="520.90,142.53 521.93,144.87 524.47,145.12 522.56,146.82 523.10,149.32 520.90,148.03 518.70,149.32 519.24,146.82 517.33,145.12 519.87,144.87"/>
<polygon points="539.02,128.19 540.05,130.53 542.59,130.78 540.68,132.48 541.22,134.98 539.02,133.69 536.81,134.98 537.35,132.48 535.45,130.78 537.99,130.53"/>
<polygon points="547.35,121.68 548.38,124.01 550.91,124.27 549.01,125.97 549.55,128.46 547.35,127.18 545.14,128.46 545.68,125.97 543.78,124.27 546.32,124.01"/>
<polygon points="558.65,113.91 559.68,116.24 562.21,116.50 560.31,118.20 560.85,120.69 558.65,119.41 556.44,120.69 556.98,118.20 555.08,116.50 557.62,116.24"/>
<polygon points="563.00,110.57 564.03,112.91 566.56,113.16 564.66,114.86 565.20,117.36 563.00,116.07 560.79,117.36 561.33,114.86 559.43,113.16 561.97,112.91"/>
<polygon points="574.76,102.77 575.79,105.10 578.33,105.36 576.43,107.06 576.97,109.55 574.76,108.27 572.56,109.55 573.10,107.06 571.20,105.36 573.73,105.10"/>
<polygon points="587.10,92.47 588.13,94.81 590.67,95.07 588.77,96.76 589.31,99.26 587.10,97.97 584.90,99.26 585.44,96.76 583.54,95.07 586.08,94.81"/>
<polygon points="590.35,90.92 591.37,93.26 593.91,93.52 592.01,95.21 592.55,97.71 590.35,96.42 588.14,97.71 588.68,95.21 586.78,93.52 589.32,93.26"/>
<polygon points="593.32,88.37 594.35,90.70 596.89,90.96 594.99,92.66 595.53,95.15 593.32,93.87 591.12,95.15 591.66,92.66 589.76,90.96 592.29,90.70"/>
<polygon points="596.67,86.31 597.70,88.65 600.24,88.90 598.34,90.60 598.88,93.09 596.67,91.81 594.47,93.09 595.01,90.60 593.11,88.90 595.65,88.65"/>
<polygon points="607.60,76.73 608.63,79.07 611.16,79.33 609.26,81.02 609.80,83.52 607.60,82.23 605.39,83.52 605.93,81.02 604.03,79.33 606.57,79.07"/>
<polygon points="609.17,73.61 610.20,75.94 612.74,76.20 610.83,77.90 611.37,80.39 609.17,79.11 606.97,80.39 607.51,77.90 605.60,76.20 608.14,75.94"/>
<polygon points="618.20,69.33 619.22,71.67 621.76,71.92 619.86,73.62 620.40,76.11 618.20,74.83 615.99,76.11 616.53,73.62 614.63,71.92 617.17,71.67"/>
<polygon points="622.11,66.72 623.14,69.06 625.68,69.31 623.78,71.01 624.32,73.51 622.11,72.22 619.91,73.51 620.45,71.01 618.55,69.31 621.08,69.06"/>
<polygon points="623.87,65.15 624.90,67.49 627.44,67.74 625.53,69.44 626.07,71.93 623.87,70.65 621.66,71.93 622.20,69.44 620.30,67.74 622.84,67.49"/>
<polygon points="625.44,62.68 626.47,65.01 629.01,65.27 627.10,66.97 627.64,69.46 625.44,68.18 623.24,69.46 623.78,66.97 621.87,65.27 624.41,65.01"/>
<polygon points="631.92,58.26 632.95,60.60 635.48,60.86 633.58,62.55 634.12,65.05 631.92,63.76 629.71,65.05 630.25,62.55 628.35,60.86 630.89,60.60"/>
<polygon points="633.19,55.39 634.22,57.73 636.75,57.98 634.85,59.68 635.39,62.17 633.19,60.89 630.98,62.17 631.52,59.68 629.62,57.98 632.16,57.73"/>
<polygon points="642.39,50.69 643.41,53.02 645.95,53.28 644.05,54.98 644.59,57.47 642.39,56.19 640.18,57.47 640.72,54.98 638.82,53.28 641.36,53.02"/>
<polygon points="648.14,45.31 649.17,47.64 651.70,47.90 649.80,49.60 650.34,52.09 648.14,50.81 645.93,52.09 646.47,49.60 644.57,47.90 647.11,47.64"/>
<polygon points="654.45,39.38 655.48,41.71 658.02,41.97 656.12,43.67 656.66,46.16 654.45,44.88 652.25,46.16 652.79,43.67 650.89,41.97 653.43,41.71"/>
<polygon points="657.79,35.99 658.81,38.32 661.35,38.58 659.45,40.28 659.99,42.77 657.79,41.49 655.58,42.77 656.12,40.28 654.22,38.58 656.76,38.32"/>
<polygon points="673.51,26.93 674.53,29.27 677.07,29.52 675.17,31.22 675.71,33.72 673.51,32.43 671.30,33.72 671.84,31.22 669.94,29.52 672.48,29.27"/>
<polygon points="676.55,25.12 677.58,27.45 680.11,27.71 678.21,29.41 678.75,31.90 676.55,30.62 674.34,31.90 674.88,29.41 672.98,27.71 675.52,27.45"/>
<polygon points="676.79,21.52 677.82,23.86 680.36,24.12 678.45,25.82 678.99,28.31 676.79,27.02 674.59,28.31 675.13,25.82 673.22,24.12 675.76,23.86"/>
<polygon points="679.94,21.81 680.96,24.14 683.50,24.40 681.60,26.10 682.14,28.59 679.94,27.31 677.73,28.59 678.27,26.10 676.37,24.40 678.91,24.14"/>
</g>
<g fill="#3000ff">
<circle cx="481.94" cy="175.90" r="3.1"/>
<circle cx="493.78" cy="166.24" r="3.1"/>
<circle cx="496.42" cy="164.54" r="3.1"/>
<circle cx="499.11" cy="163.56" r="3.1"/>
<circle cx="501.40" cy="162.04" r="3.1"/>
<circle cx="502.06" cy="159.66" r="3.1"/>
<circle cx="509.51" cy="155.24" r="3.1"/>
<circle cx="510.45" cy="153.23" r="3.1"/>
<circle cx="519.26" cy="148.01" r="3.1"/>
<circle cx="520.08" cy="146.50" r="3.1"/>
<circle cx="524.41" cy="144.43" r="3.1"/>
<circle cx="526.69" cy="142.91" r="3.1"/>
<circle cx="528.35" cy="140.56" r="3.1"/>
<circle cx="531.06" cy="139.60" r="3.1"/>
<circle cx="532.49" cy="136.94" r="3.1"/>
<circle cx="534.73" cy="134.70" r="3.1"/>
<circle cx="537.78" cy="133.55" r="3.1"/>
<circle cx="539.34" cy="131.07" r="3.1"/>
<circle cx="541.69" cy="129.64" r="3.1"/>
<circle cx="544.10" cy="128.27" r="3.1"/>
<circle cx="546.49" cy="126.90" r="3.1"/>
<circle cx="548.18" cy="124.58" r="3.1"/>
<circle cx="550.23" cy="122.75" r="3.1"/>
<circle cx="553.30" cy="122.27" r="3.1"/>
<circle cx="554.87" cy="119.81" r="3.1"/>
<circle cx="557.75" cy="119.07" r="3.1"/>
<circle cx="559.85" cy="117.31" r="3.1"/>
<circle cx="561.47" cy="114.90" r="3.1"/>
<circle cx="564.98" cy="112.40" r="3.1"/>
<circle cx="567.22" cy="110.82" r="3.1"/>
<circle cx="569.53" cy="109.33" r="3.1"/>
<circle cx="571.65" cy="107.59" r="3.1"/>
<circle cx="573.79" cy="105.87" r="3.1"/>
<circle cx="576.03" cy="104.29" r="3.1"/>
<circle cx="578.55" cy="103.09" r="3.1"/>
<circle cx="580.26" cy="100.80" r="3.1"/>
<circle cx="582.35" cy="99.02" r="3.1"/>
<circle cx="584.84" cy="97.77" r="3.1"/>
<circle cx="597.68" cy="86.84" r="3.1"/>
<circle cx="599.93" cy="85.26" r="3.1"/>
<circle cx="602.83" cy="84.57" r="3.1"/>
<circle cx="604.83" cy="82.01" r="3.1"/>
</g>
<line x1="430.20" y1="215.70" x2="679.70" y2="24.60" stroke="#00ff00" stroke-width="1.9" stroke-linecap="round"/>
<line x1="482.00" y1="176.05" x2="603.60" y2="82.90" stroke="#ff00ff" stroke-width="1.9" stroke-linecap="round"/>
<line x1="386.00" y1="249.60" x2="696.80" y2="11.50" stroke="#1a1a1a" stroke-width="0.95"/>
</g>
<rect x="386.00" y="11.50" width="310.80" height="238.10" fill="none" stroke="#1a1a1a" stroke-width="1.4"/>
<path d="M386.00 249.60h-4.70M386.00 249.60v4.70M386.00 225.79h-2.35M417.08 249.60v2.35M386.00 201.98h-4.70M448.16 249.60v4.70M386.00 178.17h-2.35M479.24 249.60v2.35M386.00 154.36h-4.70M510.32 249.60v4.70M386.00 130.55h-2.35M541.40 249.60v2.35M386.00 106.74h-4.70M572.48 249.60v4.70M386.00 82.93h-2.35M603.56 249.60v2.35M386.00 59.12h-4.70M634.64 249.60v4.70M386.00 35.31h-2.35M665.72 249.60v2.35M386.00 11.50h-4.70M696.80 249.60v4.70" stroke="#1a1a1a" stroke-width="1.3" fill="none"/>
<text transform="translate(377.30,253.69)" font-size="12.20" font-weight="bold" text-anchor="end" class="b">0</text>
<text transform="translate(386.00,265.95)" font-size="10.90" font-weight="bold" text-anchor="middle" class="b">0</text>
<text transform="translate(377.30,206.07)" font-size="12.20" font-weight="bold" text-anchor="end" class="b">20</text>
<text transform="translate(448.16,265.95)" font-size="10.90" font-weight="bold" text-anchor="middle" class="b">20</text>
<text transform="translate(377.30,158.45)" font-size="12.20" font-weight="bold" text-anchor="end" class="b">40</text>
<text transform="translate(510.32,265.95)" font-size="10.90" font-weight="bold" text-anchor="middle" class="b">40</text>
<text transform="translate(377.30,110.83)" font-size="12.20" font-weight="bold" text-anchor="end" class="b">60</text>
<text transform="translate(572.48,265.95)" font-size="10.90" font-weight="bold" text-anchor="middle" class="b">60</text>
<text transform="translate(377.30,63.21)" font-size="12.20" font-weight="bold" text-anchor="end" class="b">80</text>
<text transform="translate(634.64,265.95)" font-size="10.90" font-weight="bold" text-anchor="middle" class="b">80</text>
<text transform="translate(377.30,15.59)" font-size="12.20" font-weight="bold" text-anchor="end" class="b">100</text>
<text transform="translate(696.80,265.95)" font-size="10.90" font-weight="bold" text-anchor="middle" class="b">100</text>
<text transform="translate(541.50,285.50) scale(1.0000,0.9700)" font-size="13.00" font-weight="bold" text-anchor="middle" class="b">Experimental CS (MPa)</text>
<text transform="translate(354.20,130.35) rotate(-90) scale(1.0000,1.0440)" font-size="12.47" font-weight="bold" text-anchor="middle" class="b">CatBoost predicted CS (MPa)</text>
<rect x="393.40" y="17.00" width="150.70" height="71.00" fill="#fff" stroke="#333" stroke-width="1"/>
<g fill="#ff3d00"><polygon points="408.60,21.85 409.63,24.18 412.17,24.44 410.26,26.14 410.80,28.63 408.60,27.35 406.40,28.63 406.94,26.14 405.03,24.44 407.57,24.18"/></g>
<circle cx="408.60" cy="39.20" r="3.1" fill="#3000ff"/>
<line x1="394.50" y1="52.80" x2="422.40" y2="52.80" stroke="#00ff00" stroke-width="2"/>
<line x1="394.50" y1="66.40" x2="422.40" y2="66.40" stroke="#ff00ff" stroke-width="2"/>
<line x1="394.50" y1="80.50" x2="422.40" y2="80.50" stroke="#222" stroke-width="1"/>
<text transform="translate(425.10,29.23) scale(1.0000,0.9700)" font-size="11.70" font-weight="normal" text-anchor="start">Training set</text>
<text transform="translate(425.10,42.83) scale(1.0000,0.9700)" font-size="11.70" font-weight="normal" text-anchor="start">Testing set</text>
<text transform="translate(425.10,56.43) scale(1.0000,0.9700)" font-size="11.70" font-weight="normal" text-anchor="start">y=0.99x+0.04 (Training)</text>
<text transform="translate(425.10,70.03) scale(1.0000,0.9700)" font-size="11.70" font-weight="normal" text-anchor="start">y=0.99x+0.13 (Testing)</text>
<text transform="translate(425.10,83.63) scale(1.0000,0.9700)" font-size="11.70" font-weight="normal" text-anchor="start">y=x (Ideal fitting)</text>
<text transform="translate(523.80,320.74) scale(1.1000,1.0000)" font-size="13.20" font-weight="normal" text-anchor="middle">(b)</text>
</g>
<g>
<clipPath id="cc"><rect x="38.00" y="349.40" width="290.50" height="253.00"/></clipPath>
<g clip-path="url(#cc)">
<g fill="#ff3d00">
<polygon points="129.00,508.15 130.03,510.48 132.57,510.74 130.66,512.44 131.20,514.93 129.00,513.65 126.80,514.93 127.34,512.44 125.43,510.74 127.97,510.48"/>
<polygon points="121.60,514.05 122.63,516.38 125.17,516.64 123.26,518.34 123.80,520.83 121.60,519.55 119.40,520.83 119.94,518.34 118.03,516.64 120.57,516.38"/>
<polygon points="117.10,516.55 118.13,518.88 120.67,519.14 118.76,520.84 119.30,523.33 117.10,522.05 114.90,523.33 115.44,520.84 113.53,519.14 116.07,518.88"/>
<polygon points="124.00,519.05 125.03,521.38 127.57,521.64 125.66,523.34 126.20,525.83 124.00,524.55 121.80,525.83 122.34,523.34 120.43,521.64 122.97,521.38"/>
<polygon points="102.20,525.45 103.23,527.78 105.77,528.04 103.86,529.74 104.40,532.23 102.20,530.95 100.00,532.23 100.54,529.74 98.63,528.04 101.17,527.78"/>
<polygon points="138.40,526.95 139.43,529.28 141.97,529.54 140.06,531.24 140.60,533.73 138.40,532.45 136.20,533.73 136.74,531.24 134.83,529.54 137.37,529.28"/>
<polygon points="121.10,529.95 122.13,532.28 124.67,532.54 122.76,534.24 123.30,536.73 121.10,535.45 118.90,536.73 119.44,534.24 117.53,532.54 120.07,532.28"/>
<polygon points="111.60,530.45 112.63,532.78 115.17,533.04 113.26,534.74 113.80,537.23 111.60,535.95 109.40,537.23 109.94,534.74 108.03,533.04 110.57,532.78"/>
<polygon points="109.20,532.95 110.23,535.28 112.77,535.54 110.86,537.24 111.40,539.73 109.20,538.45 107.00,539.73 107.54,537.24 105.63,535.54 108.17,535.28"/>
<polygon points="100.70,533.45 101.73,535.78 104.27,536.04 102.36,537.74 102.90,540.23 100.70,538.95 98.50,540.23 99.04,537.74 97.13,536.04 99.67,535.78"/>
<polygon points="112.10,537.85 113.13,540.18 115.67,540.44 113.76,542.14 114.30,544.63 112.10,543.35 109.90,544.63 110.44,542.14 108.53,540.44 111.07,540.18"/>
<polygon points="107.70,539.85 108.73,542.18 111.27,542.44 109.36,544.14 109.90,546.63 107.70,545.35 105.50,546.63 106.04,544.14 104.13,542.44 106.67,542.18"/>
<polygon points="98.80,539.85 99.83,542.18 102.37,542.44 100.46,544.14 101.00,546.63 98.80,545.35 96.60,546.63 97.14,544.14 95.23,542.44 97.77,542.18"/>
<polygon points="103.70,545.85 104.73,548.18 107.27,548.44 105.36,550.14 105.90,552.63 103.70,551.35 101.50,552.63 102.04,550.14 100.13,548.44 102.67,548.18"/>
<polygon points="94.80,547.85 95.83,550.18 98.37,550.44 96.46,552.14 97.00,554.63 94.80,553.35 92.60,554.63 93.14,552.14 91.23,550.44 93.77,550.18"/>
<polygon points="87.40,551.75 88.43,554.08 90.97,554.34 89.06,556.04 89.60,558.53 87.40,557.25 85.20,558.53 85.74,556.04 83.83,554.34 86.37,554.08"/>
<polygon points="90.80,553.75 91.83,556.08 94.37,556.34 92.46,558.04 93.00,560.53 90.80,559.25 88.60,560.53 89.14,558.04 87.23,556.34 89.77,556.08"/>
<polygon points="79.90,555.75 80.93,558.08 83.47,558.34 81.56,560.04 82.10,562.53 79.90,561.25 77.70,562.53 78.24,560.04 76.33,558.34 78.87,558.08"/>
<polygon points="87.80,556.65 88.83,558.98 91.37,559.24 89.46,560.94 90.00,563.43 87.80,562.15 85.60,563.43 86.14,560.94 84.23,559.24 86.77,558.98"/>
<polygon points="84.40,558.35 85.43,560.68 87.97,560.94 86.06,562.64 86.60,565.13 84.40,563.85 82.20,565.13 82.74,562.64 80.83,560.94 83.37,560.68"/>
<polygon points="93.80,552.35 94.83,554.68 97.37,554.94 95.46,556.64 96.00,559.13 93.80,557.85 91.60,559.13 92.14,556.64 90.23,554.94 92.77,554.68"/>
<polygon points="97.20,549.85 98.23,552.18 100.77,552.44 98.86,554.14 99.40,556.63 97.20,555.35 95.00,556.63 95.54,554.14 93.63,552.44 96.17,552.18"/>
<polygon points="104.00,547.25 105.03,549.58 107.57,549.84 105.66,551.54 106.20,554.03 104.00,552.75 101.80,554.03 102.34,551.54 100.43,549.84 102.97,549.58"/>
<polygon points="107.40,543.05 108.43,545.38 110.97,545.64 109.06,547.34 109.60,549.83 107.40,548.55 105.20,549.83 105.74,547.34 103.83,545.64 106.37,545.38"/>
<polygon points="110.80,539.65 111.83,541.98 114.37,542.24 112.46,543.94 113.00,546.43 110.80,545.15 108.60,546.43 109.14,543.94 107.23,542.24 109.77,541.98"/>
<polygon points="100.60,537.05 101.63,539.38 104.17,539.64 102.26,541.34 102.80,543.83 100.60,542.55 98.40,543.83 98.94,541.34 97.03,539.64 99.57,539.38"/>
<polygon points="169.70,463.15 170.73,465.48 173.27,465.74 171.36,467.44 171.90,469.93 169.70,468.65 167.50,469.93 168.04,467.44 166.13,465.74 168.67,465.48"/>
<polygon points="166.70,470.55 167.73,472.88 170.27,473.14 168.36,474.84 168.90,477.33 166.70,476.05 164.50,477.33 165.04,474.84 163.13,473.14 165.67,472.88"/>
<polygon points="157.80,473.55 158.83,475.88 161.37,476.14 159.46,477.84 160.00,480.33 157.80,479.05 155.60,480.33 156.14,477.84 154.23,476.14 156.77,475.88"/>
<polygon points="170.70,476.95 171.73,479.28 174.27,479.54 172.36,481.24 172.90,483.73 170.70,482.45 168.50,483.73 169.04,481.24 167.13,479.54 169.67,479.28"/>
<polygon points="179.60,477.95 180.63,480.28 183.17,480.54 181.26,482.24 181.80,484.73 179.60,483.45 177.40,484.73 177.94,482.24 176.03,480.54 178.57,480.28"/>
<polygon points="181.60,470.05 182.63,472.38 185.17,472.64 183.26,474.34 183.80,476.83 181.60,475.55 179.40,476.83 179.94,474.34 178.03,472.64 180.57,472.38"/>
<polygon points="181.10,483.95 182.13,486.28 184.67,486.54 182.76,488.24 183.30,490.73 181.10,489.45 178.90,490.73 179.44,488.24 177.53,486.54 180.07,486.28"/>
<polygon points="190.50,485.95 191.53,488.28 194.07,488.54 192.16,490.24 192.70,492.73 190.50,491.45 188.30,492.73 188.84,490.24 186.93,488.54 189.47,488.28"/>
<polygon points="171.60,488.85 172.63,491.18 175.17,491.44 173.26,493.14 173.80,495.63 171.60,494.35 169.40,495.63 169.94,493.14 168.03,491.44 170.57,491.18"/>
<polygon points="178.60,491.85 179.63,494.18 182.17,494.44 180.26,496.14 180.80,498.63 178.60,497.35 176.40,498.63 176.94,496.14 175.03,494.44 177.57,494.18"/>
<polygon points="164.70,488.85 165.73,491.18 168.27,491.44 166.36,493.14 166.90,495.63 164.70,494.35 162.50,495.63 163.04,493.14 161.13,491.44 163.67,491.18"/>
<polygon points="152.80,487.85 153.83,490.18 156.37,490.44 154.46,492.14 155.00,494.63 152.80,493.35 150.60,494.63 151.14,492.14 149.23,490.44 151.77,490.18"/>
<polygon points="151.30,490.85 152.33,493.18 154.87,493.44 152.96,495.14 153.50,497.63 151.30,496.35 149.10,497.63 149.64,495.14 147.73,493.44 150.27,493.18"/>
<polygon points="144.40,491.35 145.43,493.68 147.97,493.94 146.06,495.64 146.60,498.13 144.40,496.85 142.20,498.13 142.74,495.64 140.83,493.94 143.37,493.68"/>
<polygon points="153.80,492.85 154.83,495.18 157.37,495.44 155.46,497.14 156.00,499.63 153.80,498.35 151.60,499.63 152.14,497.14 150.23,495.44 152.77,495.18"/>
<polygon points="182.50,459.15 183.53,461.48 186.07,461.74 184.16,463.44 184.70,465.93 182.50,464.65 180.30,465.93 180.84,463.44 178.93,461.74 181.47,461.48"/>
<polygon points="227.70,422.25 228.73,424.58 231.27,424.84 229.36,426.54 229.90,429.03 227.70,427.75 225.50,429.03 226.04,426.54 224.13,424.84 226.67,424.58"/>
<polygon points="236.60,420.25 237.63,422.58 240.17,422.84 238.26,424.54 238.80,427.03 236.60,425.75 234.40,427.03 234.94,424.54 233.03,422.84 235.57,422.58"/>
<polygon points="244.50,417.25 245.53,419.58 248.07,419.84 246.16,421.54 246.70,424.03 244.50,422.75 242.30,424.03 242.84,421.54 240.93,419.84 243.47,419.58"/>
<polygon points="254.40,416.75 255.43,419.08 257.97,419.34 256.06,421.04 256.60,423.53 254.40,422.25 252.20,423.53 252.74,421.04 250.83,419.34 253.37,419.08"/>
<polygon points="231.60,416.75 232.63,419.08 235.17,419.34 233.26,421.04 233.80,423.53 231.60,422.25 229.40,423.53 229.94,421.04 228.03,419.34 230.57,419.08"/>
<polygon points="220.70,450.45 221.73,452.78 224.27,453.04 222.36,454.74 222.90,457.23 220.70,455.95 218.50,457.23 219.04,454.74 217.13,453.04 219.67,452.78"/>
<polygon points="207.80,456.95 208.83,459.28 211.37,459.54 209.46,461.24 210.00,463.73 207.80,462.45 205.60,463.73 206.14,461.24 204.23,459.54 206.77,459.28"/>
<polygon points="201.90,461.85 202.93,464.18 205.47,464.44 203.56,466.14 204.10,468.63 201.90,467.35 199.70,468.63 200.24,466.14 198.33,464.44 200.87,464.18"/>
<polygon points="202.90,465.85 203.93,468.18 206.47,468.44 204.56,470.14 205.10,472.63 202.90,471.35 200.70,472.63 201.24,470.14 199.33,468.44 201.87,468.18"/>
<polygon points="240.70,389.05 241.73,391.38 244.27,391.64 242.36,393.34 242.90,395.83 240.70,394.55 238.50,395.83 239.04,393.34 237.13,391.64 239.67,391.38"/>
<polygon points="264.40,386.05 265.43,388.38 267.97,388.64 266.06,390.34 266.60,392.83 264.40,391.55 262.20,392.83 262.74,390.34 260.83,388.64 263.37,388.38"/>
<polygon points="233.20,403.45 234.23,405.78 236.77,406.04 234.86,407.74 235.40,410.23 233.20,408.95 231.00,410.23 231.54,407.74 229.63,406.04 232.17,405.78"/>
<polygon points="234.20,407.35 235.23,409.68 237.77,409.94 235.86,411.64 236.40,414.13 234.20,412.85 232.00,414.13 232.54,411.64 230.63,409.94 233.17,409.68"/>
<polygon points="231.20,414.85 232.23,417.18 234.77,417.44 232.86,419.14 233.40,421.63 231.20,420.35 229.00,421.63 229.54,419.14 227.63,417.44 230.17,417.18"/>
<polygon points="236.70,419.75 237.73,422.08 240.27,422.34 238.36,424.04 238.90,426.53 236.70,425.25 234.50,426.53 235.04,424.04 233.13,422.34 235.67,422.08"/>
<polygon points="227.30,422.75 228.33,425.08 230.87,425.34 228.96,427.04 229.50,429.53 227.30,428.25 225.10,429.53 225.64,427.04 223.73,425.34 226.27,425.08"/>
<polygon points="248.60,411.35 249.63,413.68 252.17,413.94 250.26,415.64 250.80,418.13 248.60,416.85 246.40,418.13 246.94,415.64 245.03,413.94 247.57,413.68"/>
<polygon points="244.10,417.35 245.13,419.68 247.67,419.94 245.76,421.64 246.30,424.13 244.10,422.85 241.90,424.13 242.44,421.64 240.53,419.94 243.07,419.68"/>
<polygon points="258.00,399.95 259.03,402.28 261.57,402.54 259.66,404.24 260.20,406.73 258.00,405.45 255.80,406.73 256.34,404.24 254.43,402.54 256.97,402.28"/>
<polygon points="259.50,403.45 260.53,405.78 263.07,406.04 261.16,407.74 261.70,410.23 259.50,408.95 257.30,410.23 257.84,407.74 255.93,406.04 258.47,405.78"/>
<polygon points="261.50,410.35 262.53,412.68 265.07,412.94 263.16,414.64 263.70,417.13 261.50,415.85 259.30,417.13 259.84,414.64 257.93,412.94 260.47,412.68"/>
<polygon points="258.00,412.35 259.03,414.68 261.57,414.94 259.66,416.64 260.20,419.13 258.00,417.85 255.80,419.13 256.34,416.64 254.43,414.94 256.97,414.68"/>
<polygon points="254.50,415.35 255.53,417.68 258.07,417.94 256.16,419.64 256.70,422.13 254.50,420.85 252.30,422.13 252.84,419.64 250.93,417.94 253.47,417.68"/>
<polygon points="268.90,404.95 269.93,407.28 272.47,407.54 270.56,409.24 271.10,411.73 268.90,410.45 266.70,411.73 267.24,409.24 265.33,407.54 267.87,407.28"/>
<polygon points="311.60,374.15 312.63,376.48 315.17,376.74 313.26,378.44 313.80,380.93 311.60,379.65 309.40,380.93 309.94,378.44 308.03,376.74 310.57,376.48"/>
<polygon points="309.60,377.15 310.63,379.48 313.17,379.74 311.26,381.44 311.80,383.93 309.60,382.65 307.40,383.93 307.94,381.44 306.03,379.74 308.57,379.48"/>
<polygon points="306.60,380.15 307.63,382.48 310.17,382.74 308.26,384.44 308.80,386.93 306.60,385.65 304.40,386.93 304.94,384.44 303.03,382.74 305.57,382.48"/>
<polygon points="289.70,383.15 290.73,385.48 293.27,385.74 291.36,387.44 291.90,389.93 289.70,388.65 287.50,389.93 288.04,387.44 286.13,385.74 288.67,385.48"/>
<polygon points="293.20,390.55 294.23,392.88 296.77,393.14 294.86,394.84 295.40,397.33 293.20,396.05 291.00,397.33 291.54,394.84 289.63,393.14 292.17,392.88"/>
<polygon points="283.30,393.55 284.33,395.88 286.87,396.14 284.96,397.84 285.50,400.33 283.30,399.05 281.10,400.33 281.64,397.84 279.73,396.14 282.27,395.88"/>
<polygon points="275.90,392.55 276.93,394.88 279.47,395.14 277.56,396.84 278.10,399.33 275.90,398.05 273.70,399.33 274.24,396.84 272.33,395.14 274.87,394.88"/>
<polygon points="277.40,397.45 278.43,399.78 280.97,400.04 279.06,401.74 279.60,404.23 277.40,402.95 275.20,404.23 275.74,401.74 273.83,400.04 276.37,399.78"/>
<polygon points="274.90,399.45 275.93,401.78 278.47,402.04 276.56,403.74 277.10,406.23 274.90,404.95 272.70,406.23 273.24,403.74 271.33,402.04 273.87,401.78"/>
<polygon points="269.40,403.95 270.43,406.28 272.97,406.54 271.06,408.24 271.60,410.73 269.40,409.45 267.20,410.73 267.74,408.24 265.83,406.54 268.37,406.28"/>
<polygon points="269.90,406.45 270.93,408.78 273.47,409.04 271.56,410.74 272.10,413.23 269.90,411.95 267.70,413.23 268.24,410.74 266.33,409.04 268.87,408.78"/>
<polygon points="261.40,411.65 262.43,413.98 264.97,414.24 263.06,415.94 263.60,418.43 261.40,417.15 259.20,418.43 259.74,415.94 257.83,414.24 260.37,413.98"/>
<polygon points="154.50,510.35 155.53,512.68 158.07,512.94 156.16,514.64 156.70,517.13 154.50,515.85 152.30,517.13 152.84,514.64 150.93,512.94 153.47,512.68"/>
<polygon points="146.50,515.15 147.53,517.48 150.07,517.74 148.16,519.44 148.70,521.93 146.50,520.65 144.30,521.93 144.84,519.44 142.93,517.74 145.47,517.48"/>
<polygon points="149.20,515.15 150.23,517.48 152.77,517.74 150.86,519.44 151.40,521.93 149.20,520.65 147.00,521.93 147.54,519.44 145.63,517.74 148.17,517.48"/>
<polygon points="144.80,518.75 145.83,521.08 148.37,521.34 146.46,523.04 147.00,525.53 144.80,524.25 142.60,525.53 143.14,523.04 141.23,521.34 143.77,521.08"/>
<polygon points="134.20,515.15 135.23,517.48 137.77,517.74 135.86,519.44 136.40,521.93 134.20,520.65 132.00,521.93 132.54,519.44 130.63,517.74 133.17,517.48"/>
</g>
<g fill="#3000ff">
<circle cx="143.90" cy="504.00" r="3.1"/>
<circle cx="147.40" cy="502.10" r="3.1"/>
<circle cx="154.30" cy="505.00" r="3.1"/>
<circle cx="145.90" cy="507.50" r="3.1"/>
<circle cx="127.50" cy="518.80" r="3.1"/>
<circle cx="139.50" cy="514.50" r="3.1"/>
<circle cx="139.90" cy="517.60" r="3.1"/>
<circle cx="146.50" cy="508.30" r="3.1"/>
<circle cx="162.50" cy="487.10" r="3.1"/>
<circle cx="171.30" cy="488.80" r="3.1"/>
<circle cx="175.80" cy="487.10" r="3.1"/>
<circle cx="173.50" cy="480.90" r="3.1"/>
<circle cx="172.10" cy="458.40" r="3.1"/>
<circle cx="183.50" cy="455.50" r="3.1"/>
<circle cx="189.50" cy="461.40" r="3.1"/>
<circle cx="181.60" cy="466.40" r="3.1"/>
<circle cx="185.50" cy="469.80" r="3.1"/>
<circle cx="199.40" cy="459.40" r="3.1"/>
<circle cx="193.50" cy="465.90" r="3.1"/>
<circle cx="198.40" cy="472.80" r="3.1"/>
<circle cx="194.40" cy="475.80" r="3.1"/>
<circle cx="188.50" cy="478.80" r="3.1"/>
<circle cx="189.50" cy="474.80" r="3.1"/>
<circle cx="169.70" cy="474.80" r="3.1"/>
<circle cx="176.10" cy="474.80" r="3.1"/>
<circle cx="174.10" cy="479.70" r="3.1"/>
<circle cx="176.60" cy="486.70" r="3.1"/>
<circle cx="173.60" cy="487.70" r="3.1"/>
<circle cx="170.70" cy="488.20" r="3.1"/>
<circle cx="162.70" cy="487.20" r="3.1"/>
<circle cx="212.80" cy="425.50" r="3.1"/>
<circle cx="210.30" cy="432.40" r="3.1"/>
<circle cx="221.70" cy="434.40" r="3.1"/>
<circle cx="215.30" cy="443.30" r="3.1"/>
<circle cx="221.70" cy="442.30" r="3.1"/>
<circle cx="208.30" cy="448.80" r="3.1"/>
<circle cx="219.70" cy="449.20" r="3.1"/>
<circle cx="207.80" cy="454.70" r="3.1"/>
<circle cx="212.30" cy="458.20" r="3.1"/>
<circle cx="220.20" cy="456.70" r="3.1"/>
<circle cx="200.40" cy="459.20" r="3.1"/>
<circle cx="208.80" cy="466.60" r="3.1"/>
<circle cx="209.30" cy="476.50" r="3.1"/>
<circle cx="198.90" cy="468.60" r="3.1"/>
<circle cx="196.90" cy="475.50" r="3.1"/>
<circle cx="192.00" cy="464.60" r="3.1"/>
<circle cx="191.00" cy="460.70" r="3.1"/>
<circle cx="236.60" cy="438.30" r="3.1"/>
<circle cx="241.60" cy="436.40" r="3.1"/>
<circle cx="238.10" cy="443.30" r="3.1"/>
<circle cx="236.00" cy="438.80" r="3.1"/>
<circle cx="238.50" cy="442.20" r="3.1"/>
<circle cx="189.60" cy="459.50" r="3.1"/>
<circle cx="188.00" cy="468.00" r="3.1"/>
<circle cx="194.00" cy="474.00" r="3.1"/>
<circle cx="197.40" cy="475.70" r="3.1"/>
<circle cx="188.90" cy="478.20" r="3.1"/>
<circle cx="200.00" cy="468.90" r="3.1"/>
</g>
<line x1="80.20" y1="562.90" x2="312.10" y2="367.40" stroke="#00ff00" stroke-width="1.9" stroke-linecap="round"/>
<line x1="127.50" y1="517.40" x2="241.50" y2="431.50" stroke="#ff00ff" stroke-width="1.9" stroke-linecap="round"/>
<line x1="38.00" y1="602.40" x2="328.50" y2="349.40" stroke="#1a1a1a" stroke-width="0.95"/>
</g>
<rect x="38.00" y="349.40" width="290.50" height="253.00" fill="none" stroke="#1a1a1a" stroke-width="1.4"/>
<path d="M38.00 602.40h-4.80M38.00 602.40v4.80M38.00 577.10h-2.40M67.05 602.40v2.40M38.00 551.80h-4.80M96.10 602.40v4.80M38.00 526.50h-2.40M125.15 602.40v2.40M38.00 501.20h-4.80M154.20 602.40v4.80M38.00 475.90h-2.40M183.25 602.40v2.40M38.00 450.60h-4.80M212.30 602.40v4.80M38.00 425.30h-2.40M241.35 602.40v2.40M38.00 400.00h-4.80M270.40 602.40v4.80M38.00 374.70h-2.40M299.45 602.40v2.40M38.00 349.40h-4.80M328.50 602.40v4.80" stroke="#1a1a1a" stroke-width="1.3" fill="none"/>
<text transform="translate(30.10,606.64) scale(1.0000,1.0900)" font-size="11.60" font-weight="bold" text-anchor="end" class="b">0</text>
<text transform="translate(38.00,620.66) scale(1.0000,1.0900)" font-size="11.40" font-weight="bold" text-anchor="middle" class="b">0</text>
<text transform="translate(30.10,556.04) scale(1.0000,1.0900)" font-size="11.60" font-weight="bold" text-anchor="end" class="b">20</text>
<text transform="translate(96.10,620.66) scale(1.0000,1.0900)" font-size="11.40" font-weight="bold" text-anchor="middle" class="b">20</text>
<text transform="translate(30.10,505.44) scale(1.0000,1.0900)" font-size="11.60" font-weight="bold" text-anchor="end" class="b">40</text>
<text transform="translate(154.20,620.66) scale(1.0000,1.0900)" font-size="11.40" font-weight="bold" text-anchor="middle" class="b">40</text>
<text transform="translate(30.10,454.84) scale(1.0000,1.0900)" font-size="11.60" font-weight="bold" text-anchor="end" class="b">60</text>
<text transform="translate(212.30,620.66) scale(1.0000,1.0900)" font-size="11.40" font-weight="bold" text-anchor="middle" class="b">60</text>
<text transform="translate(30.10,404.24) scale(1.0000,1.0900)" font-size="11.60" font-weight="bold" text-anchor="end" class="b">80</text>
<text transform="translate(270.40,620.66) scale(1.0000,1.0900)" font-size="11.40" font-weight="bold" text-anchor="middle" class="b">80</text>
<text transform="translate(30.10,353.64) scale(1.0000,1.0900)" font-size="11.60" font-weight="bold" text-anchor="end" class="b">100</text>
<text transform="translate(328.50,620.66) scale(1.0000,1.0900)" font-size="11.40" font-weight="bold" text-anchor="middle" class="b">100</text>
<text transform="translate(183.50,641.60) scale(1.0000,1.0900)" font-size="12.10" font-weight="bold" text-anchor="middle" class="b">Experimental CS (MPa)</text>
<text transform="translate(8.89,476.00) rotate(-90) scale(1.0000,0.9100)" font-size="13.28" font-weight="bold" text-anchor="middle" class="b">LightGBM predicted CS (MPa)</text>
<rect x="43.40" y="356.50" width="140.10" height="75.30" fill="#fff" stroke="#333" stroke-width="1"/>
<g fill="#ff3d00"><polygon points="57.00,361.85 58.03,364.18 60.57,364.44 58.66,366.14 59.20,368.63 57.00,367.35 54.80,368.63 55.34,366.14 53.43,364.44 55.97,364.18"/></g>
<circle cx="57.00" cy="379.90" r="3.1" fill="#3000ff"/>
<line x1="44.50" y1="394.40" x2="69.50" y2="394.40" stroke="#00ff00" stroke-width="2"/>
<line x1="44.50" y1="408.70" x2="69.50" y2="408.70" stroke="#ff00ff" stroke-width="2"/>
<line x1="44.50" y1="424.50" x2="69.50" y2="424.50" stroke="#222" stroke-width="1"/>
<text transform="translate(72.90,369.44) scale(1.0000,1.0900)" font-size="11.00" font-weight="normal" text-anchor="start">Training set</text>
<text transform="translate(72.90,383.74) scale(1.0000,1.0900)" font-size="11.00" font-weight="normal" text-anchor="start">Testing set</text>
<text transform="translate(72.90,398.24) scale(1.0000,1.0900)" font-size="11.00" font-weight="normal" text-anchor="start">y=0.96x+1.49 (Training)</text>
<text transform="translate(72.90,412.54) scale(1.0000,1.0900)" font-size="11.00" font-weight="normal" text-anchor="start">y=0.86x+7.12 (Testing)</text>
<text transform="translate(72.90,427.84) scale(1.0000,1.0900)" font-size="11.00" font-weight="normal" text-anchor="start">y=x (Ideal fitting)</text>
<text transform="translate(171.10,674.14) scale(1.1000,1.0000)" font-size="13.20" font-weight="normal" text-anchor="middle">(c)</text>
</g>
<g>
<clipPath id="cd"><rect x="385.30" y="352.80" width="311.80" height="250.20"/></clipPath>
<g clip-path="url(#cd)">
<g fill="#ff3d00">
<polygon points="452.20,515.05 453.23,517.38 455.77,517.64 453.86,519.34 454.40,521.83 452.20,520.55 450.00,521.83 450.54,519.34 448.63,517.64 451.17,517.38"/>
<polygon points="454.20,515.55 455.23,517.88 457.77,518.14 455.86,519.84 456.40,522.33 454.20,521.05 452.00,522.33 452.54,519.84 450.63,518.14 453.17,517.88"/>
<polygon points="461.60,522.55 462.63,524.88 465.17,525.14 463.26,526.84 463.80,529.33 461.60,528.05 459.40,529.33 459.94,526.84 458.03,525.14 460.57,524.88"/>
<polygon points="470.10,516.55 471.13,518.88 473.67,519.14 471.76,520.84 472.30,523.33 470.10,522.05 467.90,523.33 468.44,520.84 466.53,519.14 469.07,518.88"/>
<polygon points="475.50,516.55 476.53,518.88 479.07,519.14 477.16,520.84 477.70,523.33 475.50,522.05 473.30,523.33 473.84,520.84 471.93,519.14 474.47,518.88"/>
<polygon points="474.00,522.05 475.03,524.38 477.57,524.64 475.66,526.34 476.20,528.83 474.00,527.55 471.80,528.83 472.34,526.34 470.43,524.64 472.97,524.38"/>
<polygon points="482.50,523.05 483.53,525.38 486.07,525.64 484.16,527.34 484.70,529.83 482.50,528.55 480.30,529.83 480.84,527.34 478.93,525.64 481.47,525.38"/>
<polygon points="463.10,532.45 464.13,534.78 466.67,535.04 464.76,536.74 465.30,539.23 463.10,537.95 460.90,539.23 461.44,536.74 459.53,535.04 462.07,534.78"/>
<polygon points="471.60,533.45 472.63,535.78 475.17,536.04 473.26,537.74 473.80,540.23 471.60,538.95 469.40,540.23 469.94,537.74 468.03,536.04 470.57,535.78"/>
<polygon points="465.60,535.95 466.63,538.28 469.17,538.54 467.26,540.24 467.80,542.73 465.60,541.45 463.40,542.73 463.94,540.24 462.03,538.54 464.57,538.28"/>
<polygon points="463.60,539.85 464.63,542.18 467.17,542.44 465.26,544.14 465.80,546.63 463.60,545.35 461.40,546.63 461.94,544.14 460.03,542.44 462.57,542.18"/>
<polygon points="460.70,540.35 461.73,542.68 464.27,542.94 462.36,544.64 462.90,547.13 460.70,545.85 458.50,547.13 459.04,544.64 457.13,542.94 459.67,542.68"/>
<polygon points="450.70,539.85 451.73,542.18 454.27,542.44 452.36,544.14 452.90,546.63 450.70,545.35 448.50,546.63 449.04,544.14 447.13,542.44 449.67,542.18"/>
<polygon points="456.70,546.35 457.73,548.68 460.27,548.94 458.36,550.64 458.90,553.13 456.70,551.85 454.50,553.13 455.04,550.64 453.13,548.94 455.67,548.68"/>
<polygon points="446.80,545.85 447.83,548.18 450.37,548.44 448.46,550.14 449.00,552.63 446.80,551.35 444.60,552.63 445.14,550.14 443.23,548.44 445.77,548.18"/>
<polygon points="447.80,552.25 448.83,554.58 451.37,554.84 449.46,556.54 450.00,559.03 447.80,557.75 445.60,559.03 446.14,556.54 444.23,554.84 446.77,554.58"/>
<polygon points="437.40,550.75 438.43,553.08 440.97,553.34 439.06,555.04 439.60,557.53 437.40,556.25 435.20,557.53 435.74,555.04 433.83,553.34 436.37,553.08"/>
<polygon points="430.90,555.75 431.93,558.08 434.47,558.34 432.56,560.04 433.10,562.53 430.90,561.25 428.70,562.53 429.24,560.04 427.33,558.34 429.87,558.08"/>
<polygon points="429.80,557.95 430.83,560.28 433.37,560.54 431.46,562.24 432.00,564.73 429.80,563.45 427.60,564.73 428.14,562.24 426.23,560.54 428.77,560.28"/>
<polygon points="435.70,559.25 436.73,561.58 439.27,561.84 437.36,563.54 437.90,566.03 435.70,564.75 433.50,566.03 434.04,563.54 432.13,561.84 434.67,561.58"/>
<polygon points="440.40,558.75 441.43,561.08 443.97,561.34 442.06,563.04 442.60,565.53 440.40,564.25 438.20,565.53 438.74,563.04 436.83,561.34 439.37,561.08"/>
<polygon points="447.20,551.55 448.23,553.88 450.77,554.14 448.86,555.84 449.40,558.33 447.20,557.05 445.00,558.33 445.54,555.84 443.63,554.14 446.17,553.88"/>
<polygon points="448.00,545.55 449.03,547.88 451.57,548.14 449.66,549.84 450.20,552.33 448.00,551.05 445.80,552.33 446.34,549.84 444.43,548.14 446.97,547.88"/>
<polygon points="455.70,546.45 456.73,548.78 459.27,549.04 457.36,550.74 457.90,553.23 455.70,551.95 453.50,553.23 454.04,550.74 452.13,549.04 454.67,548.78"/>
<polygon points="451.40,539.65 452.43,541.98 454.97,542.24 453.06,543.94 453.60,546.43 451.40,545.15 449.20,546.43 449.74,543.94 447.83,542.24 450.37,541.98"/>
<polygon points="463.30,539.65 464.33,541.98 466.87,542.24 464.96,543.94 465.50,546.43 463.30,545.15 461.10,546.43 461.64,543.94 459.73,542.24 462.27,541.98"/>
<polygon points="465.90,538.75 466.93,541.08 469.47,541.34 467.56,543.04 468.10,545.53 465.90,544.25 463.70,545.53 464.24,543.04 462.33,541.34 464.87,541.08"/>
<polygon points="515.10,465.15 516.13,467.48 518.67,467.74 516.76,469.44 517.30,471.93 515.10,470.65 512.90,471.93 513.44,469.44 511.53,467.74 514.07,467.48"/>
<polygon points="523.50,463.15 524.53,465.48 527.07,465.74 525.16,467.44 525.70,469.93 523.50,468.65 521.30,469.93 521.84,467.44 519.93,465.74 522.47,465.48"/>
<polygon points="487.80,482.55 488.83,484.88 491.37,485.14 489.46,486.84 490.00,489.33 487.80,488.05 485.60,489.33 486.14,486.84 484.23,485.14 486.77,484.88"/>
<polygon points="499.20,486.45 500.23,488.78 502.77,489.04 500.86,490.74 501.40,493.23 499.20,491.95 497.00,493.23 497.54,490.74 495.63,489.04 498.17,488.78"/>
<polygon points="506.20,486.45 507.23,488.78 509.77,489.04 507.86,490.74 508.40,493.23 506.20,491.95 504.00,493.23 504.54,490.74 502.63,489.04 505.17,488.78"/>
<polygon points="513.10,482.05 514.13,484.38 516.67,484.64 514.76,486.34 515.30,488.83 513.10,487.55 510.90,488.83 511.44,486.34 509.53,484.64 512.07,484.38"/>
<polygon points="528.50,486.95 529.53,489.28 532.07,489.54 530.16,491.24 530.70,493.73 528.50,492.45 526.30,493.73 526.84,491.24 524.93,489.54 527.47,489.28"/>
<polygon points="534.40,486.45 535.43,488.78 537.97,489.04 536.06,490.74 536.60,493.23 534.40,491.95 532.20,493.23 532.74,490.74 530.83,489.04 533.37,488.78"/>
<polygon points="538.40,483.05 539.43,485.38 541.97,485.64 540.06,487.34 540.60,489.83 538.40,488.55 536.20,489.83 536.74,487.34 534.83,485.64 537.37,485.38"/>
<polygon points="518.60,496.95 519.63,499.28 522.17,499.54 520.26,501.24 520.80,503.73 518.60,502.45 516.40,503.73 516.94,501.24 515.03,499.54 517.57,499.28"/>
<polygon points="520.60,497.85 521.63,500.18 524.17,500.44 522.26,502.14 522.80,504.63 520.60,503.35 518.40,504.63 518.94,502.14 517.03,500.44 519.57,500.18"/>
<polygon points="528.50,497.35 529.53,499.68 532.07,499.94 530.16,501.64 530.70,504.13 528.50,502.85 526.30,504.13 526.84,501.64 524.93,499.94 527.47,499.68"/>
<polygon points="534.40,496.95 535.43,499.28 537.97,499.54 536.06,501.24 536.60,503.73 534.40,502.45 532.20,503.73 532.74,501.24 530.83,499.54 533.37,499.28"/>
<polygon points="538.40,497.85 539.43,500.18 541.97,500.44 540.06,502.14 540.60,504.63 538.40,503.35 536.20,504.63 536.74,502.14 534.83,500.44 537.37,500.18"/>
<polygon points="493.80,514.25 494.83,516.58 497.37,516.84 495.46,518.54 496.00,521.03 493.80,519.75 491.60,521.03 492.14,518.54 490.23,516.84 492.77,516.58"/>
<polygon points="499.70,514.25 500.73,516.58 503.27,516.84 501.36,518.54 501.90,521.03 499.70,519.75 497.50,521.03 498.04,518.54 496.13,516.84 498.67,516.58"/>
<polygon points="504.70,514.25 505.73,516.58 508.27,516.84 506.36,518.54 506.90,521.03 504.70,519.75 502.50,521.03 503.04,518.54 501.13,516.84 503.67,516.58"/>
<polygon points="509.70,514.25 510.73,516.58 513.27,516.84 511.36,518.54 511.90,521.03 509.70,519.75 507.50,521.03 508.04,518.54 506.13,516.84 508.67,516.58"/>
<polygon points="528.50,514.75 529.53,517.08 532.07,517.34 530.16,519.04 530.70,521.53 528.50,520.25 526.30,521.53 526.84,519.04 524.93,517.34 527.47,517.08"/>
<polygon points="474.00,515.25 475.03,517.58 477.57,517.84 475.66,519.54 476.20,522.03 474.00,520.75 471.80,522.03 472.34,519.54 470.43,517.84 472.97,517.58"/>
<polygon points="562.70,447.65 563.73,449.98 566.27,450.24 564.36,451.94 564.90,454.43 562.70,453.15 560.50,454.43 561.04,451.94 559.13,450.24 561.67,449.98"/>
<polygon points="567.70,447.65 568.73,449.98 571.27,450.24 569.36,451.94 569.90,454.43 567.70,453.15 565.50,454.43 566.04,451.94 564.13,450.24 566.67,449.98"/>
<polygon points="580.60,447.15 581.63,449.48 584.17,449.74 582.26,451.44 582.80,453.93 580.60,452.65 578.40,453.93 578.94,451.44 577.03,449.74 579.57,449.48"/>
<polygon points="561.70,465.95 562.73,468.28 565.27,468.54 563.36,470.24 563.90,472.73 561.70,471.45 559.50,472.73 560.04,470.24 558.13,468.54 560.67,468.28"/>
<polygon points="554.80,470.95 555.83,473.28 558.37,473.54 556.46,475.24 557.00,477.73 554.80,476.45 552.60,477.73 553.14,475.24 551.23,473.54 553.77,473.28"/>
<polygon points="531.00,485.85 532.03,488.18 534.57,488.44 532.66,490.14 533.20,492.63 531.00,491.35 528.80,492.63 529.34,490.14 527.43,488.44 529.97,488.18"/>
<polygon points="536.00,486.85 537.03,489.18 539.57,489.44 537.66,491.14 538.20,493.63 536.00,492.35 533.80,493.63 534.34,491.14 532.43,489.44 534.97,489.18"/>
<polygon points="548.80,486.85 549.83,489.18 552.37,489.44 550.46,491.14 551.00,493.63 548.80,492.35 546.60,493.63 547.14,491.14 545.23,489.44 547.77,489.18"/>
<polygon points="551.30,482.85 552.33,485.18 554.87,485.44 552.96,487.14 553.50,489.63 551.30,488.35 549.10,489.63 549.64,487.14 547.73,485.44 550.27,485.18"/>
<polygon points="559.20,482.35 560.23,484.68 562.77,484.94 560.86,486.64 561.40,489.13 559.20,487.85 557.00,489.13 557.54,486.64 555.63,484.94 558.17,484.68"/>
<polygon points="536.00,494.75 537.03,497.08 539.57,497.34 537.66,499.04 538.20,501.53 536.00,500.25 533.80,501.53 534.34,499.04 532.43,497.34 534.97,497.08"/>
<polygon points="580.30,405.45 581.33,407.78 583.87,408.04 581.96,409.74 582.50,412.23 580.30,410.95 578.10,412.23 578.64,409.74 576.73,408.04 579.27,407.78"/>
<polygon points="598.20,418.35 599.23,420.68 601.77,420.94 599.86,422.64 600.40,425.13 598.20,423.85 596.00,425.13 596.54,422.64 594.63,420.94 597.17,420.68"/>
<polygon points="607.10,418.35 608.13,420.68 610.67,420.94 608.76,422.64 609.30,425.13 607.10,423.85 604.90,425.13 605.44,422.64 603.53,420.94 606.07,420.68"/>
<polygon points="611.10,418.85 612.13,421.18 614.67,421.44 612.76,423.14 613.30,425.63 611.10,424.35 608.90,425.63 609.44,423.14 607.53,421.44 610.07,421.18"/>
<polygon points="623.50,418.35 624.53,420.68 627.07,420.94 625.16,422.64 625.70,425.13 623.50,423.85 621.30,425.13 621.84,422.64 619.93,420.94 622.47,420.68"/>
<polygon points="617.50,405.05 618.53,407.38 621.07,407.64 619.16,409.34 619.70,411.83 617.50,410.55 615.30,411.83 615.84,409.34 613.93,407.64 616.47,407.38"/>
<polygon points="620.50,405.05 621.53,407.38 624.07,407.64 622.16,409.34 622.70,411.83 620.50,410.55 618.30,411.83 618.84,409.34 616.93,407.64 619.47,407.38"/>
<polygon points="624.40,405.05 625.43,407.38 627.97,407.64 626.06,409.34 626.60,411.83 624.40,410.55 622.20,411.83 622.74,409.34 620.83,407.64 623.37,407.38"/>
<polygon points="628.40,404.55 629.43,406.88 631.97,407.14 630.06,408.84 630.60,411.33 628.40,410.05 626.20,411.33 626.74,408.84 624.83,407.14 627.37,406.88"/>
<polygon points="588.80,430.25 589.83,432.58 592.37,432.84 590.46,434.54 591.00,437.03 588.80,435.75 586.60,437.03 587.14,434.54 585.23,432.84 587.77,432.58"/>
<polygon points="593.70,429.75 594.73,432.08 597.27,432.34 595.36,434.04 595.90,436.53 593.70,435.25 591.50,436.53 592.04,434.04 590.13,432.34 592.67,432.08"/>
<polygon points="602.60,430.75 603.63,433.08 606.17,433.34 604.26,435.04 604.80,437.53 602.60,436.25 600.40,437.53 600.94,435.04 599.03,433.34 601.57,433.08"/>
<polygon points="639.80,380.65 640.83,382.98 643.37,383.24 641.46,384.94 642.00,387.43 639.80,386.15 637.60,387.43 638.14,384.94 636.23,383.24 638.77,382.98"/>
<polygon points="641.30,380.65 642.33,382.98 644.87,383.24 642.96,384.94 643.50,387.43 641.30,386.15 639.10,387.43 639.64,384.94 637.73,383.24 640.27,382.98"/>
<polygon points="648.30,380.65 649.33,382.98 651.87,383.24 649.96,384.94 650.50,387.43 648.30,386.15 646.10,387.43 646.64,384.94 644.73,383.24 647.27,382.98"/>
<polygon points="658.70,380.65 659.73,382.98 662.27,383.24 660.36,384.94 660.90,387.43 658.70,386.15 656.50,387.43 657.04,384.94 655.13,383.24 657.67,382.98"/>
<polygon points="673.00,380.65 674.03,382.98 676.57,383.24 674.66,384.94 675.20,387.43 673.00,386.15 670.80,387.43 671.34,384.94 669.43,383.24 671.97,382.98"/>
<polygon points="676.50,380.65 677.53,382.98 680.07,383.24 678.16,384.94 678.70,387.43 676.50,386.15 674.30,387.43 674.84,384.94 672.93,383.24 675.47,382.98"/>
<polygon points="680.00,380.65 681.03,382.98 683.57,383.24 681.66,384.94 682.20,387.43 680.00,386.15 677.80,387.43 678.34,384.94 676.43,383.24 678.97,382.98"/>
<polygon points="621.00,404.95 622.03,407.28 624.57,407.54 622.66,409.24 623.20,411.73 621.00,410.45 618.80,411.73 619.34,409.24 617.43,407.54 619.97,407.28"/>
<polygon points="625.00,404.95 626.03,407.28 628.57,407.54 626.66,409.24 627.20,411.73 625.00,410.45 622.80,411.73 623.34,409.24 621.43,407.54 623.97,407.28"/>
<polygon points="627.90,405.45 628.93,407.78 631.47,408.04 629.56,409.74 630.10,412.23 627.90,410.95 625.70,412.23 626.24,409.74 624.33,408.04 626.87,407.78"/>
<polygon points="634.40,405.45 635.43,407.78 637.97,408.04 636.06,409.74 636.60,412.23 634.40,410.95 632.20,412.23 632.74,409.74 630.83,408.04 633.37,407.78"/>
<polygon points="642.80,405.45 643.83,407.78 646.37,408.04 644.46,409.74 645.00,412.23 642.80,410.95 640.60,412.23 641.14,409.74 639.23,408.04 641.77,407.78"/>
<polygon points="655.70,405.45 656.73,407.78 659.27,408.04 657.36,409.74 657.90,412.23 655.70,410.95 653.50,412.23 654.04,409.74 652.13,408.04 654.67,407.78"/>
<polygon points="540.10,482.45 541.13,484.78 543.67,485.04 541.76,486.74 542.30,489.23 540.10,487.95 537.90,489.23 538.44,486.74 536.53,485.04 539.07,484.78"/>
<polygon points="549.10,487.05 550.13,489.38 552.67,489.64 550.76,491.34 551.30,493.83 549.10,492.55 546.90,493.83 547.44,491.34 545.53,489.64 548.07,489.38"/>
<polygon points="558.20,482.45 559.23,484.78 561.77,485.04 559.86,486.74 560.40,489.23 558.20,487.95 556.00,489.23 556.54,486.74 554.63,485.04 557.17,484.78"/>
<polygon points="521.40,497.25 522.43,499.58 524.97,499.84 523.06,501.54 523.60,504.03 521.40,502.75 519.20,504.03 519.74,501.54 517.83,499.84 520.37,499.58"/>
<polygon points="502.70,522.75 503.73,525.08 506.27,525.34 504.36,527.04 504.90,529.53 502.70,528.25 500.50,529.53 501.04,527.04 499.13,525.34 501.67,525.08"/>
<polygon points="483.40,523.25 484.43,525.58 486.97,525.84 485.06,527.54 485.60,530.03 483.40,528.75 481.20,530.03 481.74,527.54 479.83,525.84 482.37,525.58"/>
<polygon points="595.30,430.65 596.33,432.98 598.87,433.24 596.96,434.94 597.50,437.43 595.30,436.15 593.10,437.43 593.64,434.94 591.73,433.24 594.27,432.98"/>
<polygon points="609.70,418.75 610.73,421.08 613.27,421.34 611.36,423.04 611.90,425.53 609.70,424.25 607.50,425.53 608.04,423.04 606.13,421.34 608.67,421.08"/>
<polygon points="580.90,447.45 581.93,449.78 584.47,450.04 582.56,451.74 583.10,454.23 580.90,452.95 578.70,454.23 579.24,451.74 577.33,450.04 579.87,449.78"/>
<polygon points="536.70,482.45 537.73,484.78 540.27,485.04 538.36,486.74 538.90,489.23 536.70,487.95 534.50,489.23 535.04,486.74 533.13,485.04 535.67,484.78"/>
</g>
<g fill="#3000ff">
<circle cx="481.50" cy="501.50" r="3.1"/>
<circle cx="494.30" cy="501.60" r="3.1"/>
<circle cx="501.20" cy="500.20" r="3.1"/>
<circle cx="503.70" cy="500.70" r="3.1"/>
<circle cx="510.20" cy="500.20" r="3.1"/>
<circle cx="498.80" cy="481.30" r="3.1"/>
<circle cx="518.60" cy="483.30" r="3.1"/>
<circle cx="525.50" cy="483.80" r="3.1"/>
<circle cx="529.50" cy="481.30" r="3.1"/>
<circle cx="533.50" cy="480.80" r="3.1"/>
<circle cx="531.50" cy="472.90" r="3.1"/>
<circle cx="535.40" cy="472.40" r="3.1"/>
<circle cx="539.40" cy="466.90" r="3.1"/>
<circle cx="567.70" cy="441.50" r="3.1"/>
<circle cx="572.60" cy="441.50" r="3.1"/>
<circle cx="582.50" cy="441.50" r="3.1"/>
<circle cx="597.40" cy="441.50" r="3.1"/>
<circle cx="547.80" cy="454.90" r="3.1"/>
<circle cx="559.70" cy="454.90" r="3.1"/>
<circle cx="567.20" cy="454.90" r="3.1"/>
<circle cx="581.60" cy="454.90" r="3.1"/>
<circle cx="541.40" cy="466.30" r="3.1"/>
<circle cx="556.80" cy="466.80" r="3.1"/>
<circle cx="568.70" cy="466.30" r="3.1"/>
<circle cx="575.60" cy="466.30" r="3.1"/>
<circle cx="532.00" cy="471.70" r="3.1"/>
<circle cx="537.90" cy="471.70" r="3.1"/>
<circle cx="544.90" cy="471.70" r="3.1"/>
<circle cx="550.80" cy="472.70" r="3.1"/>
<circle cx="555.80" cy="472.70" r="3.1"/>
<circle cx="568.70" cy="471.70" r="3.1"/>
<circle cx="575.60" cy="472.70" r="3.1"/>
<circle cx="532.00" cy="482.60" r="3.1"/>
<circle cx="543.90" cy="483.60" r="3.1"/>
<circle cx="550.80" cy="480.70" r="3.1"/>
<circle cx="554.80" cy="483.60" r="3.1"/>
<circle cx="569.20" cy="481.10" r="3.1"/>
<circle cx="600.70" cy="440.80" r="3.1"/>
<circle cx="603.70" cy="440.80" r="3.1"/>
<circle cx="580.90" cy="454.20" r="3.1"/>
<circle cx="583.90" cy="455.20" r="3.1"/>
<circle cx="519.10" cy="483.40" r="3.1"/>
<circle cx="543.50" cy="484.00" r="3.1"/>
<circle cx="550.30" cy="481.70" r="3.1"/>
<circle cx="572.20" cy="469.00" r="3.1"/>
<circle cx="572.20" cy="466.50" r="3.1"/>
<circle cx="572.20" cy="472.50" r="3.1"/>
</g>
<line x1="430.60" y1="563.80" x2="679.50" y2="372.00" stroke="#00ff00" stroke-width="1.9" stroke-linecap="round"/>
<line x1="481.40" y1="505.80" x2="603.70" y2="441.30" stroke="#ff00ff" stroke-width="1.9" stroke-linecap="round"/>
<line x1="385.30" y1="603.00" x2="697.10" y2="352.80" stroke="#1a1a1a" stroke-width="0.95"/>
</g>
<rect x="385.30" y="352.80" width="311.80" height="250.20" fill="none" stroke="#1a1a1a" stroke-width="1.4"/>
<path d="M385.30 603.00h-5.20M385.30 603.00v5.20M385.30 577.98h-2.60M416.48 603.00v2.60M385.30 552.96h-5.20M447.66 603.00v5.20M385.30 527.94h-2.60M478.84 603.00v2.60M385.30 502.92h-5.20M510.02 603.00v5.20M385.30 477.90h-2.60M541.20 603.00v2.60M385.30 452.88h-5.20M572.38 603.00v5.20M385.30 427.86h-2.60M603.56 603.00v2.60M385.30 402.84h-5.20M634.74 603.00v5.20M385.30 377.82h-2.60M665.92 603.00v2.60M385.30 352.80h-5.20M697.10 603.00v5.20" stroke="#1a1a1a" stroke-width="1.3" fill="none"/>
<text transform="translate(376.40,607.90) scale(1.0000,1.1000)" font-size="13.30" font-weight="bold" text-anchor="end" class="b">0</text>
<text transform="translate(385.30,620.62)" font-size="12.30" font-weight="bold" text-anchor="middle" class="b">0</text>
<text transform="translate(376.40,557.86) scale(1.0000,1.1000)" font-size="13.30" font-weight="bold" text-anchor="end" class="b">20</text>
<text transform="translate(447.66,620.62)" font-size="12.30" font-weight="bold" text-anchor="middle" class="b">20</text>
<text transform="translate(376.40,507.82) scale(1.0000,1.1000)" font-size="13.30" font-weight="bold" text-anchor="end" class="b">40</text>
<text transform="translate(510.02,620.62)" font-size="12.30" font-weight="bold" text-anchor="middle" class="b">40</text>
<text transform="translate(376.40,457.78) scale(1.0000,1.1000)" font-size="13.30" font-weight="bold" text-anchor="end" class="b">60</text>
<text transform="translate(572.38,620.62)" font-size="12.30" font-weight="bold" text-anchor="middle" class="b">60</text>
<text transform="translate(376.40,407.74) scale(1.0000,1.1000)" font-size="13.30" font-weight="bold" text-anchor="end" class="b">80</text>
<text transform="translate(634.74,620.62)" font-size="12.30" font-weight="bold" text-anchor="middle" class="b">80</text>
<text transform="translate(376.40,357.70) scale(1.0000,1.1000)" font-size="13.30" font-weight="bold" text-anchor="end" class="b">100</text>
<text transform="translate(697.10,620.62)" font-size="12.30" font-weight="bold" text-anchor="middle" class="b">100</text>
<text transform="translate(541.50,641.60)" font-size="13.00" font-weight="bold" text-anchor="middle" class="b">Experimental CS (MPa)</text>
<text transform="translate(352.12,477.85) rotate(-90)" font-size="13.08" font-weight="bold" text-anchor="middle" class="b">ANFIS predicted CS (MPa)</text>
<rect x="400.70" y="364.50" width="151.90" height="73.70" fill="#fff" stroke="#333" stroke-width="1"/>
<g fill="#ff3d00"><polygon points="415.40,369.45 416.43,371.78 418.97,372.04 417.06,373.74 417.60,376.23 415.40,374.95 413.20,376.23 413.74,373.74 411.83,372.04 414.37,371.78"/></g>
<circle cx="415.40" cy="387.70" r="3.1" fill="#3000ff"/>
<line x1="401.80" y1="402.00" x2="428.60" y2="402.00" stroke="#00ff00" stroke-width="2"/>
<line x1="401.80" y1="416.00" x2="428.60" y2="416.00" stroke="#ff00ff" stroke-width="2"/>
<line x1="401.80" y1="430.50" x2="428.60" y2="430.50" stroke="#222" stroke-width="1"/>
<text transform="translate(431.70,377.00)" font-size="11.86" font-weight="normal" text-anchor="start">Training set</text>
<text transform="translate(431.70,391.50)" font-size="11.86" font-weight="normal" text-anchor="start">Testing set</text>
<text transform="translate(431.70,405.80)" font-size="11.86" font-weight="normal" text-anchor="start">y=0.95x+1.79 (Training)</text>
<text transform="translate(431.70,419.80)" font-size="11.86" font-weight="normal" text-anchor="start">y=0.69x+18.54 (Testing)</text>
<text transform="translate(431.70,434.50)" font-size="11.86" font-weight="normal" text-anchor="start">y=x (Ideal fitting)</text>
<text transform="translate(527.10,674.94) scale(1.1000,1.0000)" font-size="13.20" font-weight="normal" text-anchor="middle">(d)</text>
</g>
</svg></body></html>
